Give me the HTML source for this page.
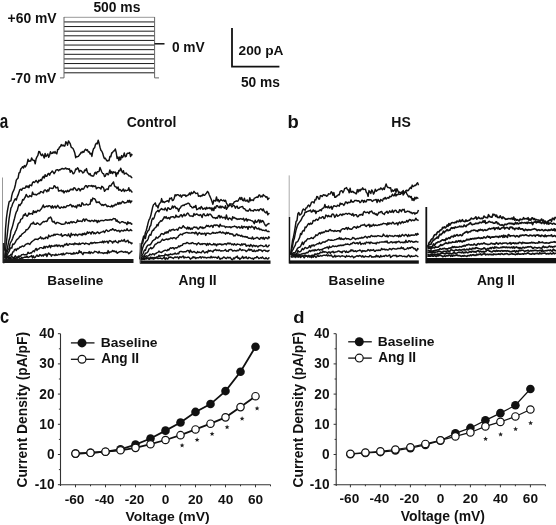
<!DOCTYPE html>
<html><head><meta charset="utf-8"><style>
html,body{margin:0;padding:0;background:#fff;}
svg{display:block;filter:blur(0.3px);}
text{font-family:"Liberation Sans",sans-serif;font-weight:bold;fill:#111;}
</style></head><body>
<svg width="556" height="525" viewBox="0 0 556 525">
<rect width="556" height="525" fill="#fff"/>
<line x1="64" y1="17.30" x2="154.6" y2="17.30" stroke="#999" stroke-width="1"/>
<line x1="64" y1="21.93" x2="154.6" y2="21.93" stroke="#1a1a1a" stroke-width="1"/>
<line x1="64" y1="26.55" x2="154.6" y2="26.55" stroke="#1a1a1a" stroke-width="1"/>
<line x1="64" y1="31.18" x2="154.6" y2="31.18" stroke="#1a1a1a" stroke-width="1"/>
<line x1="64" y1="35.80" x2="154.6" y2="35.80" stroke="#1a1a1a" stroke-width="1"/>
<line x1="64" y1="40.42" x2="154.6" y2="40.42" stroke="#1a1a1a" stroke-width="1"/>
<line x1="64" y1="45.05" x2="154.6" y2="45.05" stroke="#1a1a1a" stroke-width="1"/>
<line x1="64" y1="49.67" x2="154.6" y2="49.67" stroke="#1a1a1a" stroke-width="1"/>
<line x1="64" y1="54.30" x2="154.6" y2="54.30" stroke="#1a1a1a" stroke-width="1"/>
<line x1="64" y1="58.92" x2="154.6" y2="58.92" stroke="#1a1a1a" stroke-width="1"/>
<line x1="64" y1="63.55" x2="154.6" y2="63.55" stroke="#1a1a1a" stroke-width="1"/>
<line x1="64" y1="68.17" x2="154.6" y2="68.17" stroke="#1a1a1a" stroke-width="1"/>
<line x1="64" y1="72.80" x2="154.6" y2="72.80" stroke="#1a1a1a" stroke-width="1"/>
<path d="M60,77.9 H64 V17 M154.6,17 V77.9 H159" fill="none" stroke="#666" stroke-width="1"/>
<line x1="154.6" y1="43.8" x2="164.5" y2="43.8" stroke="#111" stroke-width="1.5"/>
<path d="M232,27.9 V66.7 H279.4" fill="none" stroke="#111" stroke-width="1.8"/>
<path d="M4.6,250.7 5.5,229.3 6.4,218.3 7.3,211.5 8.2,206.7 9.1,201.9 10.0,201.1 10.9,200.8 11.8,195.6 12.7,192.3 13.6,190.7 14.5,188.2 15.4,184.7 16.3,180.2 17.2,178.9 18.1,178.0 19.0,172.9 19.9,172.5 20.8,169.0 21.7,167.9 22.6,166.7 23.5,168.0 24.4,165.6 25.3,166.9 26.2,165.5 27.1,163.6 28.0,159.3 28.9,161.4 29.8,161.0 30.7,161.1 31.6,157.9 32.5,159.9 33.4,160.2 34.3,160.5 35.2,163.8 36.1,158.9 37.0,156.8 37.9,155.4 38.8,151.5 39.7,151.7 40.6,154.3 41.5,155.6 42.4,154.1 43.3,155.7 44.2,158.0 45.1,153.5 46.0,156.6 46.9,155.6 47.8,153.9 48.7,157.2 49.6,155.2 50.5,151.7 51.4,153.5 52.3,153.3 53.2,151.9 54.1,153.1 55.0,151.5 55.9,153.2 56.8,153.8 57.7,149.5 58.6,149.2 59.5,147.1 60.4,146.6 61.3,144.6 62.2,145.8 63.1,145.1 64.0,145.9 64.9,145.9 65.8,141.8 66.7,142.8 67.6,145.2 68.5,140.9 69.4,142.3 70.3,143.9 71.2,147.2 72.1,147.8 73.0,148.5 73.9,150.5 74.8,153.0 75.7,157.7 76.6,156.4 77.5,156.7 78.4,156.3 79.3,155.1 80.2,154.1 81.1,152.2 82.0,152.8 82.9,151.4 83.8,152.2 84.7,150.2 85.6,149.2 86.5,150.4 87.4,149.7 88.3,152.0 89.2,151.7 90.1,154.0 91.0,153.3 91.9,156.4 92.8,151.2 93.7,148.3 94.6,147.8 95.5,144.4 96.4,143.3 97.3,143.8 98.2,140.3 99.1,143.3 100.0,147.2 100.9,150.3 101.8,151.2 102.7,153.2 103.6,156.6 104.5,158.7 105.4,158.2 106.3,160.0 107.2,161.1 108.1,160.4 109.0,160.8 109.9,156.5 110.8,156.8 111.7,153.0 112.6,152.5 113.5,151.0 114.4,150.9 115.3,149.0 116.2,152.4 117.1,158.4 118.0,157.0 118.9,160.6 119.8,157.0 120.7,159.7 121.6,155.6 122.5,157.6 123.4,155.9 124.3,152.9 125.2,156.8 126.1,156.4 127.0,153.7 127.9,153.2 128.8,153.2 129.7,152.5 130.6,156.6 131.5,154.3 132.4,155.4" fill="none" stroke="#111" stroke-width="1.45" stroke-linejoin="round"/>
<path d="M4.6,258.0 5.5,250.9 6.4,242.3 7.3,234.4 8.2,226.5 9.1,218.6 10.0,213.4 10.9,208.2 11.8,206.5 12.7,203.6 13.6,202.0 14.5,200.0 15.4,198.8 16.3,200.1 17.2,196.9 18.1,194.9 19.0,192.3 19.9,189.6 20.8,189.3 21.7,190.3 22.6,188.3 23.5,188.3 24.4,188.2 25.3,187.9 26.2,185.9 27.1,187.2 28.0,185.9 28.9,187.7 29.8,185.0 30.7,185.1 31.6,185.8 32.5,182.8 33.4,181.7 34.3,182.6 35.2,181.7 36.1,180.4 37.0,181.6 37.9,182.8 38.8,180.2 39.7,181.1 40.6,179.6 41.5,180.4 42.4,177.8 43.3,176.3 44.2,178.1 45.1,174.7 46.0,176.4 46.9,176.2 47.8,174.1 48.7,173.4 49.6,175.2 50.5,173.0 51.4,172.2 52.3,171.0 53.2,172.1 54.1,173.7 55.0,172.4 55.9,170.2 56.8,169.8 57.7,169.7 58.6,170.8 59.5,169.6 60.4,169.7 61.3,168.9 62.2,168.5 63.1,168.8 64.0,169.1 64.9,168.5 65.8,168.0 66.7,169.1 67.6,168.7 68.5,169.3 69.4,168.8 70.3,172.2 71.2,170.4 72.1,171.4 73.0,173.7 73.9,173.5 74.8,171.7 75.7,168.9 76.6,169.5 77.5,167.7 78.4,168.7 79.3,172.0 80.2,170.5 81.1,170.8 82.0,171.7 82.9,173.0 83.8,172.4 84.7,170.1 85.6,170.6 86.5,168.6 87.4,172.2 88.3,173.4 89.2,174.7 90.1,173.5 91.0,175.8 91.9,175.7 92.8,176.2 93.7,175.9 94.6,173.1 95.5,172.3 96.4,174.1 97.3,171.8 98.2,171.7 99.1,171.4 100.0,167.5 100.9,169.7 101.8,172.0 102.7,173.5 103.6,173.6 104.5,176.6 105.4,176.1 106.3,173.6 107.2,173.4 108.1,174.8 109.0,173.3 109.9,169.9 110.8,173.2 111.7,171.5 112.6,173.6 113.5,171.8 114.4,172.4 115.3,172.1 116.2,176.4 117.1,172.7 118.0,173.8 118.9,170.4 119.8,170.9 120.7,168.2 121.6,170.6 122.5,172.6 123.4,170.7 124.3,174.1 125.2,173.4 126.1,173.1 127.0,174.1 127.9,174.6 128.8,175.9 129.7,175.9 130.6,176.1 131.5,177.5 132.4,177.6" fill="none" stroke="#111" stroke-width="1.45" stroke-linejoin="round"/>
<path d="M4.6,258.0 5.5,253.4 6.4,251.0 7.3,248.5 8.2,244.2 9.1,239.9 10.0,237.3 10.9,231.1 11.8,228.4 12.7,225.6 13.6,221.8 14.5,218.5 15.4,214.8 16.3,212.0 17.2,210.7 18.1,207.3 19.0,204.5 19.9,205.6 20.8,204.0 21.7,203.0 22.6,199.6 23.5,200.1 24.4,198.4 25.3,197.0 26.2,194.4 27.1,196.0 28.0,197.0 28.9,196.8 29.8,195.5 30.7,196.1 31.6,196.7 32.5,192.1 33.4,194.3 34.3,194.5 35.2,194.3 36.1,195.0 37.0,194.5 37.9,193.8 38.8,193.2 39.7,193.5 40.6,191.6 41.5,191.8 42.4,192.2 43.3,192.9 44.2,190.3 45.1,189.9 46.0,190.5 46.9,191.8 47.8,189.8 48.7,191.1 49.6,188.0 50.5,188.1 51.4,188.2 52.3,188.6 53.2,188.2 54.1,185.7 55.0,186.2 55.9,187.9 56.8,187.7 57.7,187.2 58.6,191.0 59.5,190.8 60.4,190.8 61.3,190.1 62.2,191.7 63.1,190.6 64.0,193.0 64.9,191.4 65.8,190.9 66.7,191.9 67.6,190.3 68.5,191.5 69.4,191.0 70.3,189.2 71.2,189.8 72.1,189.0 73.0,190.0 73.9,187.7 74.8,187.9 75.7,189.3 76.6,190.5 77.5,190.3 78.4,188.4 79.3,188.8 80.2,190.9 81.1,189.4 82.0,188.4 82.9,189.3 83.8,188.7 84.7,186.9 85.6,185.6 86.5,185.8 87.4,187.6 88.3,185.7 89.2,185.9 90.1,185.8 91.0,186.2 91.9,185.4 92.8,186.8 93.7,185.8 94.6,186.5 95.5,185.9 96.4,188.8 97.3,187.9 98.2,187.5 99.1,187.6 100.0,188.0 100.9,189.1 101.8,186.3 102.7,186.9 103.6,187.9 104.5,191.3 105.4,190.2 106.3,189.1 107.2,189.0 108.1,189.6 109.0,186.3 109.9,185.5 110.8,186.1 111.7,184.3 112.6,183.3 113.5,181.9 114.4,185.7 115.3,186.8 116.2,186.9 117.1,188.7 118.0,187.0 118.9,190.3 119.8,189.4 120.7,190.0 121.6,191.2 122.5,190.2 123.4,189.0 124.3,191.5 125.2,190.0 126.1,190.8 127.0,190.4 127.9,190.2 128.8,187.7 129.7,191.1 130.6,190.0 131.5,191.5 132.4,192.4" fill="none" stroke="#111" stroke-width="1.45" stroke-linejoin="round"/>
<path d="M4.6,258.0 5.5,256.8 6.4,253.7 7.3,251.7 8.2,249.2 9.1,248.9 10.0,243.8 10.9,242.0 11.8,240.4 12.7,238.3 13.6,235.3 14.5,234.1 15.4,231.5 16.3,229.8 17.2,227.2 18.1,224.0 19.0,222.9 19.9,222.2 20.8,219.3 21.7,218.9 22.6,218.1 23.5,214.9 24.4,215.4 25.3,213.5 26.2,215.5 27.1,216.3 28.0,215.3 28.9,212.9 29.8,214.2 30.7,213.6 31.6,213.4 32.5,214.3 33.4,210.7 34.3,212.6 35.2,211.3 36.1,212.5 37.0,211.3 37.9,210.2 38.8,210.9 39.7,211.0 40.6,209.3 41.5,208.8 42.4,206.8 43.3,205.0 44.2,207.5 45.1,206.9 46.0,206.5 46.9,205.9 47.8,206.7 48.7,205.7 49.6,205.8 50.5,206.3 51.4,208.1 52.3,205.8 53.2,208.1 54.1,206.8 55.0,206.0 55.9,208.0 56.8,206.8 57.7,205.3 58.6,206.6 59.5,208.0 60.4,208.2 61.3,206.9 62.2,207.4 63.1,207.8 64.0,206.5 64.9,207.5 65.8,207.2 66.7,206.0 67.6,205.6 68.5,205.8 69.4,205.3 70.3,204.4 71.2,205.1 72.1,206.9 73.0,205.6 73.9,206.5 74.8,206.9 75.7,206.0 76.6,207.9 77.5,204.9 78.4,205.8 79.3,204.5 80.2,206.4 81.1,206.3 82.0,202.8 82.9,203.6 83.8,205.0 84.7,204.9 85.6,204.7 86.5,203.9 87.4,204.8 88.3,205.0 89.2,204.3 90.1,204.2 91.0,199.6 91.9,201.0 92.8,198.0 93.7,198.7 94.6,198.8 95.5,199.9 96.4,202.6 97.3,202.1 98.2,202.5 99.1,201.8 100.0,203.5 100.9,204.3 101.8,205.4 102.7,204.5 103.6,205.5 104.5,204.7 105.4,204.3 106.3,205.3 107.2,206.7 108.1,205.9 109.0,206.4 109.9,206.6 110.8,206.9 111.7,205.3 112.6,206.9 113.5,205.4 114.4,205.8 115.3,204.2 116.2,204.9 117.1,204.2 118.0,202.6 118.9,204.3 119.8,202.5 120.7,203.8 121.6,202.7 122.5,201.3 123.4,201.8 124.3,203.0 125.2,202.7 126.1,202.6 127.0,202.3 127.9,200.4 128.8,202.3 129.7,200.3 130.6,202.7 131.5,201.2 132.4,200.8" fill="none" stroke="#111" stroke-width="1.45" stroke-linejoin="round"/>
<path d="M4.6,258.0 5.5,256.9 6.4,255.6 7.3,254.9 8.2,252.8 9.1,251.5 10.0,249.0 10.9,247.8 11.8,248.0 12.7,244.1 13.6,244.4 14.5,243.6 15.4,242.2 16.3,240.2 17.2,239.4 18.1,238.6 19.0,237.7 19.9,236.0 20.8,236.3 21.7,234.3 22.6,233.7 23.5,233.0 24.4,232.3 25.3,231.7 26.2,229.6 27.1,229.8 28.0,229.0 28.9,227.7 29.8,226.5 30.7,224.3 31.6,223.5 32.5,223.7 33.4,222.1 34.3,224.1 35.2,224.3 36.1,224.3 37.0,223.0 37.9,223.3 38.8,224.0 39.7,224.8 40.6,224.5 41.5,223.1 42.4,222.6 43.3,221.4 44.2,221.9 45.1,221.4 46.0,221.3 46.9,221.5 47.8,219.6 48.7,217.9 49.6,218.0 50.5,217.0 51.4,218.3 52.3,221.5 53.2,222.1 54.1,221.3 55.0,223.2 55.9,223.8 56.8,222.5 57.7,222.4 58.6,222.8 59.5,223.3 60.4,223.6 61.3,224.2 62.2,224.1 63.1,224.2 64.0,224.1 64.9,223.9 65.8,221.9 66.7,222.7 67.6,223.4 68.5,222.5 69.4,223.5 70.3,222.2 71.2,221.6 72.1,222.9 73.0,221.8 73.9,222.0 74.8,222.4 75.7,222.7 76.6,222.3 77.5,220.0 78.4,221.3 79.3,221.3 80.2,220.9 81.1,221.3 82.0,221.6 82.9,219.7 83.8,218.9 84.7,221.2 85.6,219.3 86.5,219.1 87.4,220.4 88.3,220.9 89.2,220.5 90.1,221.6 91.0,220.9 91.9,220.3 92.8,220.8 93.7,221.5 94.6,220.1 95.5,220.9 96.4,220.5 97.3,222.6 98.2,220.5 99.1,221.8 100.0,220.9 100.9,220.5 101.8,220.5 102.7,220.4 103.6,220.7 104.5,220.4 105.4,219.8 106.3,219.8 107.2,220.3 108.1,219.8 109.0,220.2 109.9,219.5 110.8,219.8 111.7,220.1 112.6,219.3 113.5,218.4 114.4,218.8 115.3,218.8 116.2,221.3 117.1,220.0 118.0,222.0 118.9,221.8 119.8,223.1 120.7,222.5 121.6,221.8 122.5,221.7 123.4,222.1 124.3,222.7 125.2,222.6 126.1,223.2 127.0,224.6 127.9,221.8 128.8,223.5 129.7,222.7 130.6,223.0 131.5,224.2 132.4,223.7" fill="none" stroke="#111" stroke-width="1.45" stroke-linejoin="round"/>
<path d="M4.6,258.0 5.5,257.7 6.4,256.0 7.3,256.2 8.2,256.8 9.1,255.6 10.0,255.7 10.9,254.3 11.8,255.2 12.7,252.0 13.6,251.9 14.5,249.6 15.4,249.1 16.3,250.6 17.2,248.4 18.1,249.1 19.0,248.2 19.9,247.0 20.8,247.2 21.7,246.3 22.6,245.9 23.5,246.6 24.4,246.0 25.3,244.7 26.2,244.0 27.1,244.0 28.0,243.3 28.9,243.9 29.8,244.5 30.7,242.9 31.6,241.9 32.5,241.2 33.4,240.5 34.3,239.9 35.2,239.1 36.1,239.2 37.0,239.1 37.9,239.6 38.8,238.4 39.7,238.2 40.6,236.8 41.5,238.8 42.4,237.9 43.3,239.0 44.2,238.2 45.1,238.6 46.0,237.1 46.9,237.4 47.8,238.4 48.7,235.1 49.6,236.6 50.5,236.6 51.4,235.4 52.3,235.5 53.2,235.7 54.1,234.2 55.0,235.3 55.9,234.2 56.8,234.4 57.7,234.3 58.6,234.6 59.5,234.9 60.4,235.1 61.3,233.8 62.2,236.4 63.1,235.6 64.0,235.3 64.9,234.7 65.8,234.8 66.7,235.6 67.6,235.7 68.5,233.9 69.4,236.0 70.3,237.1 71.2,233.2 72.1,235.2 73.0,234.5 73.9,234.4 74.8,235.6 75.7,234.0 76.6,234.7 77.5,235.8 78.4,234.4 79.3,234.1 80.2,234.8 81.1,234.1 82.0,235.4 82.9,233.4 83.8,234.6 84.7,233.1 85.6,234.7 86.5,233.9 87.4,231.8 88.3,233.3 89.2,232.3 90.1,232.5 91.0,234.1 91.9,232.0 92.8,231.8 93.7,233.8 94.6,232.7 95.5,233.8 96.4,233.0 97.3,232.0 98.2,232.5 99.1,233.5 100.0,233.0 100.9,232.3 101.8,232.1 102.7,231.7 103.6,231.1 104.5,232.6 105.4,231.1 106.3,229.9 107.2,230.5 108.1,231.4 109.0,231.1 109.9,230.3 110.8,229.7 111.7,230.1 112.6,228.7 113.5,229.4 114.4,230.6 115.3,229.7 116.2,230.3 117.1,231.1 118.0,230.8 118.9,230.3 119.8,232.0 120.7,230.9 121.6,230.3 122.5,230.9 123.4,231.0 124.3,229.9 125.2,230.6 126.1,230.5 127.0,228.7 127.9,230.4 128.8,230.7 129.7,230.5 130.6,229.5 131.5,230.5 132.4,230.6" fill="none" stroke="#111" stroke-width="1.45" stroke-linejoin="round"/>
<path d="M4.6,258.0 5.5,257.9 6.4,256.9 7.3,256.8 8.2,258.4 9.1,256.9 10.0,258.8 10.9,257.0 11.8,256.5 12.7,257.2 13.6,258.0 14.5,256.9 15.4,255.8 16.3,257.2 17.2,257.8 18.1,256.3 19.0,255.9 19.9,256.7 20.8,255.8 21.7,254.7 22.6,254.6 23.5,254.3 24.4,254.8 25.3,254.6 26.2,254.9 27.1,254.2 28.0,252.2 28.9,253.3 29.8,253.4 30.7,252.7 31.6,253.0 32.5,251.5 33.4,250.8 34.3,251.8 35.2,249.7 36.1,248.4 37.0,250.5 37.9,249.0 38.8,249.1 39.7,247.9 40.6,247.6 41.5,247.6 42.4,248.3 43.3,248.4 44.2,246.3 45.1,248.1 46.0,246.4 46.9,246.4 47.8,247.4 48.7,246.5 49.6,245.3 50.5,247.7 51.4,245.5 52.3,246.3 53.2,245.9 54.1,246.4 55.0,245.1 55.9,246.1 56.8,244.8 57.7,246.5 58.6,245.2 59.5,245.2 60.4,246.7 61.3,245.6 62.2,245.4 63.1,246.9 64.0,245.5 64.9,244.2 65.8,245.0 66.7,243.4 67.6,245.2 68.5,245.1 69.4,243.7 70.3,243.9 71.2,244.3 72.1,244.3 73.0,243.8 73.9,244.8 74.8,243.0 75.7,244.1 76.6,243.8 77.5,244.0 78.4,244.5 79.3,243.1 80.2,244.5 81.1,243.7 82.0,243.3 82.9,243.1 83.8,243.4 84.7,244.3 85.6,243.1 86.5,243.4 87.4,243.8 88.3,243.9 89.2,244.6 90.1,243.4 91.0,242.4 91.9,243.7 92.8,242.7 93.7,243.0 94.6,242.3 95.5,243.1 96.4,242.8 97.3,242.8 98.2,242.6 99.1,242.6 100.0,242.2 100.9,242.1 101.8,242.5 102.7,241.1 103.6,242.8 104.5,241.2 105.4,242.1 106.3,241.5 107.2,241.2 108.1,243.1 109.0,241.2 109.9,240.6 110.8,241.2 111.7,241.5 112.6,243.1 113.5,241.3 114.4,241.8 115.3,240.6 116.2,241.8 117.1,242.4 118.0,242.9 118.9,240.8 119.8,241.6 120.7,241.3 121.6,240.1 122.5,241.0 123.4,241.0 124.3,239.4 125.2,241.7 126.1,241.7 127.0,240.9 127.9,240.2 128.8,242.7 129.7,242.0 130.6,242.7 131.5,243.8 132.4,242.5" fill="none" stroke="#111" stroke-width="1.45" stroke-linejoin="round"/>
<path d="M4.6,258.0 5.5,257.3 6.4,258.4 7.3,257.6 8.2,257.8 9.1,259.2 10.0,258.5 10.9,258.4 11.8,258.1 12.7,258.0 13.6,258.4 14.5,257.5 15.4,259.4 16.3,257.5 17.2,258.3 18.1,257.5 19.0,257.7 19.9,258.4 20.8,258.9 21.7,257.3 22.6,258.2 23.5,257.6 24.4,257.3 25.3,257.0 26.2,257.3 27.1,256.2 28.0,257.5 28.9,257.2 29.8,256.7 30.7,256.4 31.6,255.6 32.5,258.0 33.4,255.8 34.3,257.8 35.2,257.4 36.1,256.1 37.0,255.0 37.9,256.2 38.8,256.3 39.7,254.6 40.6,254.9 41.5,255.9 42.4,255.1 43.3,256.1 44.2,254.3 45.1,255.0 46.0,253.8 46.9,256.5 47.8,254.2 48.7,253.0 49.6,254.4 50.5,254.2 51.4,256.2 52.3,254.7 53.2,254.9 54.1,255.0 55.0,255.5 55.9,254.1 56.8,255.2 57.7,255.0 58.6,254.2 59.5,254.6 60.4,254.4 61.3,253.7 62.2,255.0 63.1,253.2 64.0,254.8 64.9,254.2 65.8,253.6 66.7,252.9 67.6,253.1 68.5,253.5 69.4,253.4 70.3,253.3 71.2,254.2 72.1,253.4 73.0,254.2 73.9,252.6 74.8,253.9 75.7,253.4 76.6,252.6 77.5,253.6 78.4,253.2 79.3,250.6 80.2,252.6 81.1,251.7 82.0,253.4 82.9,254.6 83.8,252.5 84.7,252.8 85.6,252.6 86.5,252.8 87.4,252.8 88.3,253.2 89.2,251.6 90.1,253.6 91.0,252.0 91.9,252.6 92.8,253.1 93.7,252.6 94.6,251.3 95.5,251.6 96.4,251.8 97.3,252.3 98.2,253.1 99.1,251.3 100.0,252.8 100.9,252.9 101.8,252.8 102.7,253.0 103.6,253.5 104.5,252.7 105.4,253.1 106.3,252.6 107.2,253.6 108.1,250.6 109.0,253.0 109.9,252.0 110.8,252.0 111.7,251.6 112.6,250.4 113.5,251.4 114.4,250.9 115.3,251.9 116.2,251.2 117.1,253.3 118.0,252.7 118.9,252.2 119.8,251.7 120.7,251.5 121.6,251.3 122.5,251.6 123.4,252.2 124.3,252.1 125.2,251.5 126.1,252.4 127.0,251.8 127.9,252.5 128.8,253.7 129.7,252.9 130.6,252.3 131.5,251.3 132.4,251.2" fill="none" stroke="#111" stroke-width="1.45" stroke-linejoin="round"/>
<path d="M140.0,259.0 140.9,245.9 141.8,243.0 142.7,239.6 143.6,236.1 144.5,237.2 145.4,232.5 146.3,230.3 147.2,226.8 148.1,222.9 149.0,219.9 149.9,218.3 150.8,215.6 151.7,211.5 152.6,207.3 153.5,204.8 154.4,204.0 155.3,202.9 156.2,206.0 157.1,205.8 158.0,208.0 158.9,204.8 159.8,203.1 160.7,202.7 161.6,198.6 162.5,202.0 163.4,201.5 164.3,202.6 165.2,201.8 166.1,201.4 167.0,201.0 167.9,200.7 168.8,202.0 169.7,198.3 170.6,198.7 171.5,197.7 172.4,200.6 173.3,200.2 174.2,198.2 175.1,194.7 176.0,195.8 176.9,194.8 177.8,194.7 178.7,195.2 179.6,195.9 180.5,194.9 181.4,197.2 182.3,195.6 183.2,194.9 184.1,195.3 185.0,194.8 185.9,196.5 186.8,195.4 187.7,195.6 188.6,194.6 189.5,193.0 190.4,194.9 191.3,192.2 192.2,193.5 193.1,193.0 194.0,191.3 194.9,192.6 195.8,193.5 196.7,193.4 197.6,193.1 198.5,196.2 199.4,195.8 200.3,196.5 201.2,195.5 202.1,196.0 203.0,194.2 203.9,195.2 204.8,195.2 205.7,193.9 206.6,193.0 207.5,191.4 208.4,192.5 209.3,195.0 210.2,196.9 211.1,199.1 212.0,201.5 212.9,204.2 213.8,200.3 214.7,200.7 215.6,201.0 216.5,196.9 217.4,200.8 218.3,199.6 219.2,202.0 220.1,200.5 221.0,199.5 221.9,200.4 222.8,200.7 223.7,200.0 224.6,201.3 225.5,200.3 226.4,203.0 227.3,204.7 228.2,206.3 229.1,205.0 230.0,203.8 230.9,204.1 231.8,203.9 232.7,204.3 233.6,203.2 234.5,201.6 235.4,201.5 236.3,200.8 237.2,201.3 238.1,200.9 239.0,199.2 239.9,197.5 240.8,199.5 241.7,197.5 242.6,200.4 243.5,200.7 244.4,198.3 245.3,201.1 246.2,201.1 247.1,199.9 248.0,201.7 248.9,202.0 249.8,197.8 250.7,200.7 251.6,199.9 252.5,199.9 253.4,200.6 254.3,198.2 255.2,197.9 256.1,197.4 257.0,197.0 257.9,197.4 258.8,195.3 259.7,195.0 260.6,197.0 261.5,196.1 262.4,196.8 263.3,194.6 264.2,195.7 265.1,196.1 266.0,197.2 266.9,196.7 267.8,199.5 268.7,198.3 269.6,198.2" fill="none" stroke="#111" stroke-width="1.45" stroke-linejoin="round"/>
<path d="M140.0,259.0 140.9,250.5 141.8,243.4 142.7,243.1 143.6,239.1 144.5,236.6 145.4,238.5 146.3,234.0 147.2,232.4 148.1,230.6 149.0,230.0 149.9,226.4 150.8,225.4 151.7,220.6 152.6,218.3 153.5,219.1 154.4,216.9 155.3,213.8 156.2,212.0 157.1,211.3 158.0,210.2 158.9,211.8 159.8,210.2 160.7,209.4 161.6,208.6 162.5,209.5 163.4,209.4 164.3,209.9 165.2,208.0 166.1,209.5 167.0,210.9 167.9,207.8 168.8,208.1 169.7,209.3 170.6,209.2 171.5,208.5 172.4,206.0 173.3,207.9 174.2,206.2 175.1,206.5 176.0,208.5 176.9,208.0 177.8,209.0 178.7,211.4 179.6,208.3 180.5,207.8 181.4,205.9 182.3,205.7 183.2,205.1 184.1,205.5 185.0,204.4 185.9,204.3 186.8,203.8 187.7,203.3 188.6,203.3 189.5,204.1 190.4,206.3 191.3,206.4 192.2,207.8 193.1,207.8 194.0,206.4 194.9,207.2 195.8,205.4 196.7,209.7 197.6,209.3 198.5,208.6 199.4,207.7 200.3,209.0 201.2,206.5 202.1,207.6 203.0,209.3 203.9,208.6 204.8,208.0 205.7,209.4 206.6,207.3 207.5,208.5 208.4,208.1 209.3,207.6 210.2,208.8 211.1,207.8 212.0,210.6 212.9,207.9 213.8,210.6 214.7,206.9 215.6,208.2 216.5,205.8 217.4,205.8 218.3,207.0 219.2,207.8 220.1,206.0 221.0,208.0 221.9,206.2 222.8,207.0 223.7,207.5 224.6,208.2 225.5,205.8 226.4,209.3 227.3,207.9 228.2,206.6 229.1,205.9 230.0,204.8 230.9,205.2 231.8,206.9 232.7,205.9 233.6,205.3 234.5,206.0 235.4,208.2 236.3,206.7 237.2,206.2 238.1,208.4 239.0,208.2 239.9,207.2 240.8,207.0 241.7,206.6 242.6,206.5 243.5,208.6 244.4,208.6 245.3,209.6 246.2,210.8 247.1,210.4 248.0,211.3 248.9,210.1 249.8,208.8 250.7,210.8 251.6,210.5 252.5,210.6 253.4,211.2 254.3,209.6 255.2,209.7 256.1,210.6 257.0,210.1 257.9,209.6 258.8,210.8 259.7,209.5 260.6,208.8 261.5,209.2 262.4,210.7 263.3,208.9 264.2,211.2 265.1,212.3 266.0,212.9 266.9,211.3 267.8,214.8 268.7,213.4 269.6,213.6" fill="none" stroke="#111" stroke-width="1.45" stroke-linejoin="round"/>
<path d="M140.0,259.0 140.9,254.8 141.8,251.0 142.7,247.8 143.6,245.4 144.5,243.6 145.4,242.7 146.3,241.1 147.2,240.7 148.1,239.0 149.0,236.0 149.9,234.5 150.8,235.3 151.7,232.1 152.6,230.3 153.5,230.4 154.4,228.4 155.3,227.7 156.2,226.9 157.1,224.4 158.0,225.8 158.9,222.7 159.8,222.0 160.7,220.8 161.6,221.2 162.5,220.0 163.4,218.8 164.3,216.8 165.2,218.0 166.1,216.6 167.0,218.5 167.9,218.3 168.8,217.6 169.7,219.0 170.6,217.0 171.5,217.0 172.4,216.7 173.3,216.6 174.2,217.7 175.1,217.5 176.0,215.1 176.9,217.0 177.8,216.4 178.7,217.1 179.6,216.6 180.5,214.9 181.4,214.8 182.3,216.9 183.2,215.4 184.1,214.1 185.0,215.9 185.9,215.4 186.8,213.9 187.7,213.1 188.6,214.0 189.5,215.8 190.4,216.0 191.3,215.9 192.2,216.1 193.1,216.5 194.0,213.5 194.9,215.1 195.8,214.4 196.7,213.9 197.6,214.6 198.5,215.3 199.4,215.5 200.3,214.6 201.2,215.4 202.1,217.6 203.0,214.4 203.9,213.7 204.8,215.5 205.7,215.7 206.6,215.6 207.5,213.9 208.4,215.6 209.3,214.1 210.2,214.1 211.1,215.0 212.0,216.3 212.9,217.5 213.8,217.7 214.7,217.6 215.6,218.5 216.5,217.6 217.4,218.2 218.3,215.9 219.2,215.4 220.1,217.9 221.0,216.1 221.9,217.1 222.8,217.9 223.7,217.4 224.6,217.3 225.5,219.1 226.4,215.0 227.3,218.3 228.2,219.7 229.1,218.0 230.0,218.3 230.9,219.0 231.8,220.1 232.7,216.8 233.6,218.0 234.5,217.5 235.4,218.5 236.3,218.5 237.2,219.4 238.1,218.8 239.0,219.3 239.9,218.8 240.8,218.6 241.7,219.1 242.6,219.2 243.5,218.2 244.4,220.9 245.3,219.8 246.2,218.6 247.1,221.1 248.0,219.4 248.9,220.0 249.8,219.9 250.7,220.4 251.6,220.7 252.5,220.9 253.4,221.9 254.3,223.7 255.2,220.2 256.1,222.2 257.0,222.0 257.9,220.6 258.8,219.7 259.7,222.8 260.6,220.2 261.5,222.1 262.4,220.6 263.3,221.4 264.2,223.3 265.1,225.0 266.0,226.1 266.9,224.9 267.8,224.1 268.7,223.5 269.6,223.7" fill="none" stroke="#111" stroke-width="1.45" stroke-linejoin="round"/>
<path d="M140.0,259.0 140.9,255.9 141.8,255.6 142.7,254.4 143.6,252.2 144.5,249.9 145.4,250.4 146.3,247.5 147.2,246.1 148.1,245.1 149.0,244.9 149.9,244.9 150.8,244.1 151.7,242.7 152.6,240.9 153.5,240.4 154.4,239.4 155.3,239.2 156.2,237.1 157.1,238.1 158.0,238.0 158.9,236.5 159.8,236.5 160.7,234.5 161.6,233.6 162.5,233.7 163.4,234.4 164.3,233.8 165.2,232.2 166.1,233.2 167.0,231.7 167.9,232.9 168.8,231.1 169.7,230.1 170.6,231.1 171.5,229.7 172.4,229.8 173.3,229.2 174.2,230.3 175.1,229.9 176.0,229.6 176.9,229.2 177.8,230.2 178.7,228.3 179.6,227.3 180.5,228.0 181.4,228.2 182.3,227.3 183.2,225.7 184.1,226.9 185.0,227.7 185.9,227.9 186.8,229.1 187.7,226.9 188.6,228.9 189.5,227.5 190.4,229.4 191.3,228.2 192.2,229.2 193.1,227.8 194.0,227.0 194.9,227.2 195.8,227.5 196.7,227.2 197.6,228.9 198.5,229.0 199.4,227.8 200.3,226.8 201.2,227.9 202.1,227.0 203.0,228.6 203.9,227.6 204.8,227.9 205.7,226.8 206.6,225.3 207.5,226.2 208.4,225.5 209.3,226.8 210.2,226.6 211.1,225.4 212.0,225.7 212.9,227.4 213.8,225.1 214.7,225.0 215.6,225.5 216.5,225.0 217.4,225.1 218.3,225.9 219.2,226.9 220.1,224.2 221.0,225.8 221.9,226.1 222.8,225.9 223.7,226.1 224.6,226.2 225.5,227.6 226.4,226.7 227.3,226.9 228.2,226.9 229.1,227.0 230.0,226.7 230.9,227.8 231.8,226.9 232.7,226.7 233.6,226.6 234.5,226.1 235.4,226.7 236.3,226.7 237.2,228.0 238.1,227.1 239.0,226.7 239.9,228.0 240.8,227.9 241.7,226.0 242.6,228.3 243.5,226.7 244.4,226.4 245.3,227.5 246.2,227.0 247.1,226.7 248.0,229.3 248.9,226.4 249.8,227.2 250.7,227.7 251.6,226.1 252.5,227.0 253.4,227.1 254.3,229.2 255.2,226.7 256.1,227.6 257.0,228.8 257.9,228.9 258.8,228.1 259.7,229.7 260.6,229.2 261.5,229.5 262.4,230.4 263.3,230.2 264.2,230.4 265.1,230.7 266.0,229.8 266.9,231.1 267.8,231.5 268.7,231.3 269.6,231.8" fill="none" stroke="#111" stroke-width="1.45" stroke-linejoin="round"/>
<path d="M140.0,259.0 140.9,258.3 141.8,257.4 142.7,256.3 143.6,256.1 144.5,255.3 145.4,253.2 146.3,253.0 147.2,252.6 148.1,251.6 149.0,249.0 149.9,248.6 150.8,247.5 151.7,248.8 152.6,248.1 153.5,247.3 154.4,245.6 155.3,244.2 156.2,244.0 157.1,243.3 158.0,242.3 158.9,242.6 159.8,242.3 160.7,241.7 161.6,240.4 162.5,239.2 163.4,240.2 164.3,240.2 165.2,239.6 166.1,239.2 167.0,239.0 167.9,239.7 168.8,238.9 169.7,239.0 170.6,237.9 171.5,238.2 172.4,238.7 173.3,237.8 174.2,237.8 175.1,238.1 176.0,239.0 176.9,237.5 177.8,237.3 178.7,235.7 179.6,235.1 180.5,234.1 181.4,234.4 182.3,234.9 183.2,233.5 184.1,233.3 185.0,233.0 185.9,232.6 186.8,232.4 187.7,232.7 188.6,233.0 189.5,233.0 190.4,233.1 191.3,233.0 192.2,232.5 193.1,232.9 194.0,232.6 194.9,233.7 195.8,232.1 196.7,233.1 197.6,235.0 198.5,233.4 199.4,232.6 200.3,233.5 201.2,234.3 202.1,233.3 203.0,234.1 203.9,233.6 204.8,233.1 205.7,235.4 206.6,233.3 207.5,233.3 208.4,233.2 209.3,233.8 210.2,234.0 211.1,233.7 212.0,233.2 212.9,232.2 213.8,233.2 214.7,232.9 215.6,233.3 216.5,232.4 217.4,232.9 218.3,232.3 219.2,232.6 220.1,231.6 221.0,232.7 221.9,233.1 222.8,232.1 223.7,232.9 224.6,232.9 225.5,234.2 226.4,232.3 227.3,233.5 228.2,232.6 229.1,233.3 230.0,234.3 230.9,233.6 231.8,234.3 232.7,234.0 233.6,235.9 234.5,235.5 235.4,235.8 236.3,234.0 237.2,234.2 238.1,235.5 239.0,235.1 239.9,235.5 240.8,236.2 241.7,235.3 242.6,236.7 243.5,236.4 244.4,236.9 245.3,236.4 246.2,237.3 247.1,236.7 248.0,237.8 248.9,238.3 249.8,238.2 250.7,238.3 251.6,238.8 252.5,236.9 253.4,239.2 254.3,238.4 255.2,238.5 256.1,237.9 257.0,237.3 257.9,237.9 258.8,238.8 259.7,239.3 260.6,237.6 261.5,237.5 262.4,238.7 263.3,237.3 264.2,239.4 265.1,238.0 266.0,237.4 266.9,238.3 267.8,238.8 268.7,236.7 269.6,238.4" fill="none" stroke="#111" stroke-width="1.45" stroke-linejoin="round"/>
<path d="M140.0,259.0 140.9,257.5 141.8,258.4 142.7,258.3 143.6,257.5 144.5,256.4 145.4,256.5 146.3,255.8 147.2,256.2 148.1,255.9 149.0,255.5 149.9,254.1 150.8,254.7 151.7,254.8 152.6,253.8 153.5,253.9 154.4,255.0 155.3,253.4 156.2,253.5 157.1,252.6 158.0,252.4 158.9,251.1 159.8,252.1 160.7,252.2 161.6,252.6 162.5,251.6 163.4,251.0 164.3,250.6 165.2,250.2 166.1,250.4 167.0,250.8 167.9,249.4 168.8,250.1 169.7,248.6 170.6,247.8 171.5,248.3 172.4,247.7 173.3,247.7 174.2,249.1 175.1,247.9 176.0,247.7 176.9,248.0 177.8,247.3 178.7,245.9 179.6,246.8 180.5,245.8 181.4,245.5 182.3,245.3 183.2,243.7 184.1,243.6 185.0,243.5 185.9,243.5 186.8,242.5 187.7,242.8 188.6,243.5 189.5,243.7 190.4,243.3 191.3,243.6 192.2,242.6 193.1,243.0 194.0,243.8 194.9,243.6 195.8,243.6 196.7,244.9 197.6,243.5 198.5,242.8 199.4,243.7 200.3,244.6 201.2,243.7 202.1,244.6 203.0,243.6 203.9,243.7 204.8,243.6 205.7,244.0 206.6,245.4 207.5,243.4 208.4,245.0 209.3,243.5 210.2,244.0 211.1,244.8 212.0,244.8 212.9,244.8 213.8,243.5 214.7,244.8 215.6,244.1 216.5,245.8 217.4,244.1 218.3,244.6 219.2,243.8 220.1,244.4 221.0,243.9 221.9,245.0 222.8,244.2 223.7,244.6 224.6,243.7 225.5,243.7 226.4,244.8 227.3,243.4 228.2,243.0 229.1,244.0 230.0,243.0 230.9,243.7 231.8,244.7 232.7,244.0 233.6,244.9 234.5,243.7 235.4,244.9 236.3,245.0 237.2,244.0 238.1,244.3 239.0,244.4 239.9,244.7 240.8,245.5 241.7,243.8 242.6,245.0 243.5,243.9 244.4,244.2 245.3,243.9 246.2,246.3 247.1,245.3 248.0,245.8 248.9,245.2 249.8,246.5 250.7,244.5 251.6,245.4 252.5,246.8 253.4,245.2 254.3,245.6 255.2,246.5 256.1,245.6 257.0,246.1 257.9,246.9 258.8,245.9 259.7,245.8 260.6,245.3 261.5,245.5 262.4,245.6 263.3,246.6 264.2,246.4 265.1,246.1 266.0,244.8 266.9,246.8 267.8,246.7 268.7,245.6 269.6,244.8" fill="none" stroke="#111" stroke-width="1.45" stroke-linejoin="round"/>
<path d="M140.0,259.0 140.9,259.9 141.8,259.7 142.7,258.5 143.6,258.6 144.5,257.9 145.4,258.5 146.3,257.4 147.2,258.5 148.1,258.2 149.0,258.6 149.9,257.9 150.8,257.0 151.7,258.7 152.6,257.4 153.5,258.1 154.4,257.4 155.3,257.6 156.2,258.1 157.1,256.9 158.0,257.1 158.9,255.2 159.8,256.5 160.7,255.8 161.6,255.8 162.5,255.7 163.4,255.7 164.3,256.2 165.2,254.1 166.1,255.1 167.0,254.7 167.9,255.7 168.8,254.5 169.7,254.7 170.6,253.9 171.5,254.5 172.4,254.6 173.3,253.9 174.2,254.0 175.1,253.1 176.0,254.0 176.9,254.1 177.8,253.2 178.7,253.8 179.6,251.6 180.5,251.5 181.4,251.4 182.3,251.8 183.2,252.0 184.1,251.8 185.0,251.6 185.9,251.8 186.8,250.9 187.7,250.4 188.6,250.6 189.5,252.8 190.4,250.1 191.3,251.6 192.2,252.5 193.1,251.9 194.0,251.4 194.9,252.1 195.8,252.8 196.7,253.1 197.6,251.5 198.5,252.4 199.4,252.1 200.3,252.6 201.2,252.8 202.1,251.6 203.0,250.8 203.9,251.9 204.8,252.9 205.7,252.2 206.6,251.7 207.5,252.8 208.4,250.2 209.3,251.2 210.2,250.5 211.1,251.0 212.0,251.1 212.9,252.0 213.8,250.3 214.7,250.2 215.6,249.4 216.5,250.5 217.4,250.1 218.3,250.6 219.2,249.9 220.1,250.6 221.0,251.2 221.9,250.7 222.8,250.9 223.7,250.7 224.6,250.3 225.5,249.5 226.4,251.3 227.3,250.9 228.2,251.4 229.1,249.6 230.0,249.7 230.9,249.3 231.8,249.9 232.7,251.1 233.6,250.8 234.5,250.3 235.4,250.8 236.3,251.0 237.2,250.2 238.1,250.8 239.0,250.1 239.9,248.7 240.8,249.7 241.7,250.6 242.6,249.8 243.5,250.1 244.4,250.1 245.3,250.4 246.2,251.6 247.1,250.8 248.0,250.2 248.9,249.0 249.8,250.4 250.7,249.4 251.6,249.7 252.5,251.3 253.4,251.4 254.3,250.0 255.2,251.6 256.1,251.2 257.0,250.4 257.9,251.1 258.8,249.6 259.7,250.0 260.6,250.0 261.5,250.5 262.4,251.6 263.3,250.4 264.2,250.2 265.1,250.3 266.0,251.2 266.9,250.9 267.8,251.6 268.7,250.6 269.6,250.3" fill="none" stroke="#111" stroke-width="1.45" stroke-linejoin="round"/>
<path d="M140.0,259.0 140.9,259.3 141.8,258.4 142.7,259.0 143.6,259.2 144.5,259.4 145.4,258.4 146.3,258.9 147.2,257.9 148.1,257.9 149.0,259.3 149.9,259.0 150.8,257.9 151.7,258.3 152.6,258.6 153.5,259.1 154.4,258.6 155.3,258.4 156.2,257.1 157.1,258.0 158.0,258.6 158.9,258.4 159.8,258.3 160.7,258.0 161.6,258.8 162.5,258.8 163.4,257.9 164.3,257.3 165.2,259.5 166.1,257.8 167.0,258.8 167.9,259.1 168.8,256.9 169.7,257.5 170.6,257.0 171.5,257.5 172.4,257.7 173.3,258.4 174.2,257.5 175.1,256.9 176.0,257.6 176.9,257.0 177.8,257.0 178.7,258.7 179.6,256.8 180.5,257.0 181.4,257.5 182.3,256.7 183.2,256.1 184.1,258.1 185.0,257.1 185.9,257.6 186.8,257.6 187.7,257.2 188.6,257.1 189.5,257.8 190.4,259.2 191.3,258.2 192.2,258.0 193.1,256.7 194.0,257.8 194.9,257.1 195.8,258.6 196.7,257.7 197.6,257.7 198.5,257.9 199.4,257.3 200.3,256.7 201.2,258.2 202.1,256.9 203.0,256.9 203.9,257.8 204.8,257.2 205.7,257.6 206.6,258.1 207.5,257.5 208.4,257.5 209.3,257.5 210.2,257.9 211.1,256.3 212.0,257.8 212.9,257.2 213.8,257.1 214.7,257.6 215.6,257.2 216.5,257.7 217.4,258.3 218.3,256.5 219.2,257.9 220.1,259.3 221.0,258.3 221.9,258.7 222.8,257.9 223.7,257.0 224.6,257.4 225.5,258.3 226.4,258.6 227.3,257.3 228.2,257.5 229.1,258.0 230.0,257.3 230.9,258.4 231.8,259.6 232.7,259.7 233.6,257.9 234.5,258.8 235.4,257.2 236.3,257.2 237.2,256.1 238.1,258.4 239.0,257.8 239.9,259.4 240.8,258.3 241.7,257.8 242.6,256.3 243.5,258.4 244.4,257.4 245.3,257.8 246.2,256.7 247.1,258.5 248.0,258.5 248.9,257.3 249.8,257.7 250.7,258.2 251.6,258.6 252.5,258.3 253.4,259.2 254.3,258.0 255.2,257.8 256.1,257.8 257.0,256.5 257.9,257.4 258.8,258.5 259.7,258.1 260.6,257.6 261.5,258.2 262.4,256.9 263.3,258.2 264.2,258.5 265.1,258.7 266.0,257.6 266.9,258.7 267.8,259.1 268.7,257.8 269.6,258.2" fill="none" stroke="#111" stroke-width="1.45" stroke-linejoin="round"/>
<path d="M290.7,254.5 291.6,247.0 292.5,240.5 293.4,237.2 294.3,232.6 295.2,227.1 296.1,221.4 297.0,220.4 297.9,213.7 298.8,212.5 299.7,215.1 300.6,214.4 301.5,213.7 302.4,210.6 303.3,209.0 304.2,209.6 305.1,210.3 306.0,208.0 306.9,207.7 307.8,205.8 308.7,205.0 309.6,206.8 310.5,205.0 311.4,202.4 312.3,201.9 313.2,202.0 314.1,202.9 315.0,199.6 315.9,199.8 316.8,196.5 317.7,196.7 318.6,199.1 319.5,199.1 320.4,195.6 321.3,195.8 322.2,196.6 323.1,195.0 324.0,194.7 324.9,195.6 325.8,195.1 326.7,196.2 327.6,195.6 328.5,193.7 329.4,194.1 330.3,193.9 331.2,191.7 332.1,192.6 333.0,195.3 333.9,192.6 334.8,197.3 335.7,197.2 336.6,196.0 337.5,195.8 338.4,194.6 339.3,194.7 340.2,191.3 341.1,190.8 342.0,190.8 342.9,192.8 343.8,191.0 344.7,188.4 345.6,188.3 346.5,187.6 347.4,189.5 348.3,190.0 349.2,192.8 350.1,188.2 351.0,192.2 351.9,192.0 352.8,191.3 353.7,192.5 354.6,192.5 355.5,193.5 356.4,193.8 357.3,189.6 358.2,192.0 359.1,189.6 360.0,191.1 360.9,189.2 361.8,189.7 362.7,187.8 363.6,189.5 364.5,189.4 365.4,189.2 366.3,192.3 367.2,193.2 368.1,196.3 369.0,190.6 369.9,191.9 370.8,193.5 371.7,190.0 372.6,191.2 373.5,194.1 374.4,192.4 375.3,189.2 376.2,191.3 377.1,190.4 378.0,189.8 378.9,189.2 379.8,189.6 380.7,187.9 381.6,188.7 382.5,189.7 383.4,188.0 384.3,189.5 385.2,186.6 386.1,183.9 387.0,186.6 387.9,187.5 388.8,187.5 389.7,188.1 390.6,187.7 391.5,191.8 392.4,190.0 393.3,191.3 394.2,190.6 395.1,189.0 396.0,192.4 396.9,188.7 397.8,190.6 398.7,192.7 399.6,192.0 400.5,192.9 401.4,192.2 402.3,191.5 403.2,195.1 404.1,192.8 405.0,192.2 405.9,190.7 406.8,190.2 407.7,190.8 408.6,190.2 409.5,188.6 410.4,187.3 411.3,188.5 412.2,185.1 413.1,186.6 414.0,186.1 414.9,185.2 415.8,185.5 416.7,183.7 417.6,182.7 418.5,185.2" fill="none" stroke="#111" stroke-width="1.45" stroke-linejoin="round"/>
<path d="M290.7,254.5 291.6,249.5 292.5,246.1 293.4,240.9 294.3,238.5 295.2,233.8 296.1,229.7 297.0,226.7 297.9,224.5 298.8,223.1 299.7,221.9 300.6,220.8 301.5,219.2 302.4,216.9 303.3,215.9 304.2,214.9 305.1,211.9 306.0,212.3 306.9,211.7 307.8,211.3 308.7,211.0 309.6,210.8 310.5,210.1 311.4,212.1 312.3,211.6 313.2,209.8 314.1,211.5 315.0,210.4 315.9,213.5 316.8,211.3 317.7,211.4 318.6,211.2 319.5,210.3 320.4,209.7 321.3,210.8 322.2,208.4 323.1,208.2 324.0,207.6 324.9,204.5 325.8,207.5 326.7,206.8 327.6,207.7 328.5,206.0 329.4,208.1 330.3,207.7 331.2,206.3 332.1,209.2 333.0,206.9 333.9,205.8 334.8,206.0 335.7,206.4 336.6,206.6 337.5,205.2 338.4,205.7 339.3,206.2 340.2,203.1 341.1,204.3 342.0,203.6 342.9,204.3 343.8,205.4 344.7,204.0 345.6,201.9 346.5,202.2 347.4,203.5 348.3,202.2 349.2,202.5 350.1,202.6 351.0,199.9 351.9,202.0 352.8,201.7 353.7,202.0 354.6,200.5 355.5,200.4 356.4,200.4 357.3,201.1 358.2,200.8 359.1,201.0 360.0,202.7 360.9,202.0 361.8,200.2 362.7,200.4 363.6,202.4 364.5,200.4 365.4,201.9 366.3,201.8 367.2,199.6 368.1,199.6 369.0,200.2 369.9,199.6 370.8,199.7 371.7,200.8 372.6,201.4 373.5,200.3 374.4,200.1 375.3,199.8 376.2,199.5 377.1,202.5 378.0,199.4 378.9,200.8 379.8,201.9 380.7,199.4 381.6,200.3 382.5,201.0 383.4,198.4 384.3,198.9 385.2,197.4 386.1,199.1 387.0,198.2 387.9,197.6 388.8,198.3 389.7,196.2 390.6,196.8 391.5,196.3 392.4,194.2 393.3,195.7 394.2,195.7 395.1,193.3 396.0,196.0 396.9,194.3 397.8,194.8 398.7,193.7 399.6,194.4 400.5,194.2 401.4,193.0 402.3,193.3 403.2,190.5 404.1,193.7 405.0,192.0 405.9,191.4 406.8,193.9 407.7,195.1 408.6,196.8 409.5,195.9 410.4,197.5 411.3,196.6 412.2,200.2 413.1,198.6 414.0,200.6 414.9,197.3 415.8,199.0 416.7,197.3 417.6,198.1 418.5,198.4" fill="none" stroke="#111" stroke-width="1.45" stroke-linejoin="round"/>
<path d="M290.7,254.5 291.6,252.1 292.5,250.5 293.4,248.8 294.3,246.8 295.2,245.4 296.1,242.2 297.0,242.1 297.9,241.2 298.8,239.2 299.7,237.4 300.6,233.5 301.5,234.5 302.4,231.5 303.3,230.5 304.2,231.0 305.1,227.1 306.0,227.5 306.9,226.2 307.8,224.6 308.7,223.6 309.6,224.5 310.5,223.1 311.4,224.1 312.3,223.5 313.2,220.4 314.1,220.8 315.0,220.7 315.9,219.5 316.8,219.3 317.7,220.2 318.6,219.2 319.5,217.2 320.4,218.0 321.3,218.1 322.2,216.8 323.1,216.7 324.0,218.6 324.9,218.1 325.8,215.1 326.7,215.4 327.6,216.8 328.5,215.4 329.4,216.6 330.3,216.2 331.2,216.8 332.1,214.1 333.0,214.0 333.9,215.0 334.8,217.4 335.7,215.9 336.6,214.3 337.5,216.2 338.4,215.9 339.3,215.2 340.2,214.2 341.1,214.5 342.0,215.4 342.9,213.9 343.8,214.6 344.7,214.1 345.6,213.5 346.5,213.5 347.4,214.2 348.3,213.5 349.2,213.5 350.1,214.0 351.0,214.2 351.9,215.3 352.8,213.5 353.7,216.1 354.6,214.9 355.5,214.7 356.4,214.8 357.3,216.8 358.2,216.5 359.1,215.3 360.0,214.5 360.9,215.0 361.8,214.3 362.7,215.2 363.6,212.0 364.5,211.4 365.4,212.6 366.3,212.6 367.2,212.1 368.1,212.3 369.0,213.6 369.9,211.4 370.8,211.8 371.7,211.0 372.6,212.8 373.5,213.6 374.4,212.9 375.3,214.5 376.2,213.8 377.1,215.4 378.0,214.0 378.9,212.3 379.8,212.7 380.7,211.6 381.6,211.4 382.5,213.4 383.4,213.8 384.3,214.5 385.2,212.5 386.1,212.3 387.0,211.3 387.9,213.3 388.8,212.2 389.7,210.8 390.6,212.2 391.5,212.1 392.4,210.1 393.3,212.5 394.2,211.2 395.1,210.3 396.0,210.4 396.9,212.1 397.8,212.3 398.7,212.5 399.6,209.7 400.5,210.3 401.4,211.7 402.3,209.4 403.2,210.0 404.1,209.3 405.0,212.3 405.9,212.1 406.8,211.5 407.7,211.1 408.6,211.5 409.5,211.5 410.4,212.7 411.3,212.3 412.2,213.7 413.1,212.9 414.0,212.6 414.9,214.2 415.8,212.9 416.7,213.3 417.6,212.1 418.5,210.0" fill="none" stroke="#111" stroke-width="1.45" stroke-linejoin="round"/>
<path d="M290.7,254.5 291.6,253.3 292.5,253.3 293.4,252.8 294.3,252.7 295.2,252.3 296.1,251.0 297.0,249.2 297.9,248.0 298.8,247.4 299.7,247.3 300.6,246.3 301.5,244.4 302.4,242.1 303.3,244.6 304.2,242.7 305.1,241.3 306.0,241.0 306.9,239.7 307.8,238.6 308.7,238.9 309.6,238.8 310.5,238.4 311.4,237.6 312.3,238.2 313.2,238.5 314.1,237.1 315.0,236.8 315.9,234.7 316.8,235.6 317.7,235.0 318.6,233.7 319.5,232.7 320.4,233.9 321.3,232.3 322.2,233.1 323.1,232.0 324.0,232.5 324.9,231.7 325.8,230.6 326.7,231.5 327.6,231.1 328.5,231.4 329.4,229.9 330.3,229.5 331.2,230.7 332.1,230.8 333.0,230.7 333.9,231.4 334.8,230.4 335.7,231.1 336.6,231.3 337.5,230.7 338.4,230.8 339.3,230.7 340.2,232.0 341.1,229.9 342.0,229.2 342.9,228.7 343.8,228.8 344.7,229.3 345.6,228.1 346.5,227.6 347.4,229.5 348.3,227.5 349.2,229.0 350.1,228.8 351.0,229.3 351.9,229.2 352.8,227.9 353.7,227.0 354.6,226.8 355.5,227.4 356.4,228.2 357.3,226.3 358.2,227.5 359.1,226.8 360.0,226.8 360.9,225.3 361.8,225.4 362.7,225.0 363.6,225.1 364.5,224.3 365.4,225.9 366.3,226.5 367.2,225.3 368.1,225.2 369.0,224.3 369.9,226.9 370.8,225.0 371.7,226.3 372.6,225.5 373.5,224.3 374.4,225.8 375.3,225.0 376.2,225.3 377.1,225.6 378.0,225.2 378.9,224.7 379.8,225.0 380.7,224.3 381.6,224.6 382.5,223.9 383.4,223.3 384.3,223.6 385.2,223.7 386.1,223.7 387.0,225.0 387.9,222.7 388.8,224.3 389.7,222.9 390.6,223.5 391.5,223.9 392.4,222.3 393.3,222.4 394.2,224.0 395.1,223.8 396.0,223.5 396.9,222.7 397.8,225.1 398.7,222.7 399.6,222.0 400.5,223.8 401.4,222.6 402.3,221.6 403.2,222.9 404.1,221.9 405.0,222.2 405.9,222.0 406.8,220.4 407.7,222.0 408.6,220.8 409.5,219.5 410.4,219.7 411.3,220.9 412.2,219.9 413.1,220.1 414.0,220.7 414.9,220.1 415.8,218.2 416.7,219.7 417.6,219.9 418.5,220.7" fill="none" stroke="#111" stroke-width="1.45" stroke-linejoin="round"/>
<path d="M290.7,254.5 291.6,254.6 292.5,254.1 293.4,254.1 294.3,253.7 295.2,254.5 296.1,253.7 297.0,253.4 297.9,250.4 298.8,252.0 299.7,251.7 300.6,251.6 301.5,250.2 302.4,248.4 303.3,249.7 304.2,248.7 305.1,247.4 306.0,247.9 306.9,248.4 307.8,248.0 308.7,247.2 309.6,245.7 310.5,247.7 311.4,245.3 312.3,245.9 313.2,244.8 314.1,246.1 315.0,244.9 315.9,244.8 316.8,244.1 317.7,243.7 318.6,243.9 319.5,242.4 320.4,243.8 321.3,243.6 322.2,242.5 323.1,242.0 324.0,241.9 324.9,242.2 325.8,241.3 326.7,241.0 327.6,240.5 328.5,239.6 329.4,239.9 330.3,240.2 331.2,240.0 332.1,240.2 333.0,240.4 333.9,240.1 334.8,239.7 335.7,239.6 336.6,239.3 337.5,238.7 338.4,238.9 339.3,237.6 340.2,239.4 341.1,238.0 342.0,239.4 342.9,239.0 343.8,239.5 344.7,238.7 345.6,238.0 346.5,239.0 347.4,238.6 348.3,238.7 349.2,239.0 350.1,239.7 351.0,239.3 351.9,238.9 352.8,237.4 353.7,238.0 354.6,238.5 355.5,239.5 356.4,238.8 357.3,238.3 358.2,238.8 359.1,238.2 360.0,237.9 360.9,238.2 361.8,237.2 362.7,238.1 363.6,237.7 364.5,236.9 365.4,236.2 366.3,237.1 367.2,237.9 368.1,236.8 369.0,236.4 369.9,237.3 370.8,235.9 371.7,235.5 372.6,236.4 373.5,236.3 374.4,236.5 375.3,236.0 376.2,236.6 377.1,236.0 378.0,235.6 378.9,235.8 379.8,236.2 380.7,236.3 381.6,236.6 382.5,236.3 383.4,234.1 384.3,235.5 385.2,236.1 386.1,236.5 387.0,235.2 387.9,237.0 388.8,235.9 389.7,235.4 390.6,236.0 391.5,236.0 392.4,235.9 393.3,236.6 394.2,236.1 395.1,235.4 396.0,235.8 396.9,236.1 397.8,235.5 398.7,236.9 399.6,235.1 400.5,236.6 401.4,235.9 402.3,234.4 403.2,235.2 404.1,235.9 405.0,234.9 405.9,234.4 406.8,235.4 407.7,236.6 408.6,234.5 409.5,236.0 410.4,235.5 411.3,235.0 412.2,235.2 413.1,234.9 414.0,235.4 414.9,235.1 415.8,233.7 416.7,235.2 417.6,233.4 418.5,234.8" fill="none" stroke="#111" stroke-width="1.45" stroke-linejoin="round"/>
<path d="M290.7,254.5 291.6,253.8 292.5,255.2 293.4,254.4 294.3,254.8 295.2,254.9 296.1,254.5 297.0,254.5 297.9,253.9 298.8,254.1 299.7,255.0 300.6,254.6 301.5,253.9 302.4,253.9 303.3,253.5 304.2,253.6 305.1,253.3 306.0,253.0 306.9,252.5 307.8,252.7 308.7,251.5 309.6,250.4 310.5,251.6 311.4,250.5 312.3,250.7 313.2,249.9 314.1,251.0 315.0,249.6 315.9,250.5 316.8,250.3 317.7,249.6 318.6,249.3 319.5,250.2 320.4,249.6 321.3,249.5 322.2,250.0 323.1,248.6 324.0,248.4 324.9,248.0 325.8,247.8 326.7,247.3 327.6,247.0 328.5,248.8 329.4,246.3 330.3,247.4 331.2,247.2 332.1,246.6 333.0,245.7 333.9,246.4 334.8,246.4 335.7,246.1 336.6,246.6 337.5,246.2 338.4,245.4 339.3,245.8 340.2,245.0 341.1,245.8 342.0,245.1 342.9,245.5 343.8,245.0 344.7,244.9 345.6,244.1 346.5,244.4 347.4,244.0 348.3,244.3 349.2,244.7 350.1,244.6 351.0,243.5 351.9,243.9 352.8,242.7 353.7,242.3 354.6,243.3 355.5,243.5 356.4,243.0 357.3,242.8 358.2,244.0 359.1,242.9 360.0,242.1 360.9,244.6 361.8,243.7 362.7,243.4 363.6,244.0 364.5,243.0 365.4,244.0 366.3,242.1 367.2,242.4 368.1,242.8 369.0,242.2 369.9,243.7 370.8,242.0 371.7,242.6 372.6,243.2 373.5,243.3 374.4,243.4 375.3,243.0 376.2,244.0 377.1,242.3 378.0,242.7 378.9,242.9 379.8,242.1 380.7,242.1 381.6,241.9 382.5,242.0 383.4,241.9 384.3,242.1 385.2,241.3 386.1,242.2 387.0,240.9 387.9,243.1 388.8,242.9 389.7,242.7 390.6,241.9 391.5,241.7 392.4,242.8 393.3,242.2 394.2,242.6 395.1,241.7 396.0,243.0 396.9,241.6 397.8,242.1 398.7,241.2 399.6,241.8 400.5,242.7 401.4,242.3 402.3,242.2 403.2,242.8 404.1,241.9 405.0,242.7 405.9,240.3 406.8,242.2 407.7,242.3 408.6,240.8 409.5,240.8 410.4,242.1 411.3,241.1 412.2,241.4 413.1,242.3 414.0,241.8 414.9,242.0 415.8,241.2 416.7,241.7 417.6,242.1 418.5,241.7" fill="none" stroke="#111" stroke-width="1.45" stroke-linejoin="round"/>
<path d="M290.7,255.5 291.6,256.3 292.5,255.6 293.4,255.6 294.3,256.1 295.2,254.9 296.1,255.8 297.0,256.1 297.9,255.4 298.8,255.2 299.7,255.9 300.6,255.9 301.5,255.9 302.4,256.1 303.3,256.2 304.2,255.3 305.1,255.1 306.0,256.0 306.9,256.3 307.8,256.6 308.7,255.8 309.6,257.0 310.5,256.5 311.4,255.5 312.3,255.3 313.2,255.2 314.1,255.6 315.0,253.8 315.9,254.6 316.8,254.0 317.7,253.4 318.6,253.8 319.5,253.5 320.4,252.1 321.3,252.5 322.2,252.5 323.1,251.3 324.0,252.3 324.9,251.7 325.8,252.1 326.7,252.2 327.6,253.3 328.5,252.0 329.4,251.9 330.3,253.3 331.2,251.9 332.1,252.1 333.0,251.3 333.9,252.8 334.8,252.2 335.7,252.0 336.6,251.9 337.5,251.5 338.4,251.0 339.3,251.1 340.2,252.0 341.1,251.8 342.0,252.8 342.9,251.1 343.8,251.1 344.7,251.0 345.6,252.5 346.5,251.1 347.4,252.2 348.3,252.4 349.2,251.3 350.1,251.5 351.0,249.7 351.9,250.9 352.8,250.0 353.7,251.5 354.6,251.3 355.5,250.7 356.4,251.7 357.3,251.1 358.2,250.6 359.1,250.5 360.0,250.0 360.9,250.6 361.8,252.2 362.7,250.6 363.6,251.2 364.5,250.7 365.4,251.4 366.3,251.0 367.2,250.9 368.1,249.5 369.0,250.1 369.9,250.9 370.8,249.7 371.7,250.4 372.6,250.2 373.5,249.6 374.4,251.2 375.3,251.3 376.2,250.2 377.1,250.3 378.0,250.6 378.9,249.9 379.8,250.5 380.7,250.2 381.6,248.4 382.5,249.6 383.4,249.3 384.3,249.1 385.2,249.9 386.1,249.3 387.0,249.8 387.9,250.0 388.8,249.6 389.7,248.6 390.6,249.0 391.5,249.8 392.4,248.8 393.3,248.5 394.2,248.6 395.1,249.1 396.0,249.0 396.9,249.0 397.8,248.3 398.7,248.5 399.6,248.4 400.5,248.5 401.4,247.1 402.3,248.6 403.2,247.7 404.1,249.4 405.0,249.4 405.9,249.2 406.8,248.8 407.7,247.7 408.6,248.7 409.5,247.7 410.4,248.2 411.3,247.3 412.2,247.1 413.1,247.8 414.0,248.9 414.9,248.4 415.8,250.1 416.7,250.8 417.6,248.5 418.5,249.5" fill="none" stroke="#111" stroke-width="1.45" stroke-linejoin="round"/>
<path d="M290.7,257.0 291.6,256.7 292.5,257.0 293.4,256.7 294.3,255.9 295.2,257.5 296.1,256.0 297.0,257.0 297.9,256.6 298.8,257.2 299.7,255.2 300.6,257.6 301.5,256.5 302.4,255.8 303.3,256.6 304.2,257.8 305.1,256.5 306.0,255.4 306.9,255.8 307.8,257.0 308.7,255.3 309.6,256.3 310.5,256.2 311.4,257.7 312.3,256.1 313.2,257.2 314.1,256.2 315.0,256.2 315.9,257.4 316.8,256.7 317.7,255.0 318.6,256.4 319.5,256.3 320.4,255.5 321.3,255.9 322.2,255.9 323.1,255.4 324.0,255.2 324.9,255.2 325.8,255.6 326.7,254.8 327.6,255.9 328.5,254.9 329.4,255.8 330.3,255.7 331.2,254.9 332.1,256.3 333.0,257.1 333.9,256.8 334.8,255.2 335.7,257.0 336.6,256.1 337.5,256.2 338.4,255.9 339.3,256.0 340.2,256.8 341.1,256.2 342.0,255.8 342.9,256.0 343.8,256.1 344.7,256.6 345.6,257.3 346.5,255.5 347.4,256.4 348.3,256.3 349.2,256.0 350.1,256.7 351.0,256.8 351.9,256.0 352.8,256.4 353.7,257.8 354.6,257.0 355.5,256.7 356.4,256.0 357.3,255.8 358.2,256.4 359.1,255.8 360.0,255.5 360.9,256.1 361.8,256.9 362.7,255.8 363.6,257.0 364.5,257.0 365.4,256.0 366.3,256.6 367.2,256.6 368.1,256.8 369.0,256.8 369.9,255.5 370.8,255.6 371.7,257.2 372.6,256.8 373.5,257.0 374.4,256.6 375.3,257.0 376.2,255.2 377.1,256.8 378.0,255.8 378.9,256.8 379.8,257.3 380.7,255.4 381.6,256.7 382.5,256.4 383.4,256.0 384.3,256.4 385.2,255.5 386.1,255.3 387.0,256.2 387.9,256.1 388.8,255.3 389.7,254.9 390.6,257.4 391.5,256.7 392.4,256.2 393.3,255.4 394.2,255.4 395.1,255.8 396.0,255.2 396.9,256.8 397.8,255.9 398.7,256.3 399.6,255.5 400.5,255.7 401.4,255.8 402.3,256.5 403.2,256.4 404.1,256.1 405.0,256.8 405.9,256.3 406.8,257.0 407.7,256.0 408.6,255.0 409.5,256.1 410.4,256.9 411.3,255.8 412.2,256.6 413.1,256.2 414.0,256.4 414.9,256.1 415.8,255.3 416.7,255.7 417.6,256.5 418.5,256.6" fill="none" stroke="#111" stroke-width="1.45" stroke-linejoin="round"/>
<path d="M427.3,245.5 428.2,246.2 429.1,242.5 430.0,241.9 430.9,240.1 431.8,238.9 432.7,239.0 433.6,236.5 434.5,234.8 435.4,234.6 436.3,234.7 437.2,232.4 438.1,231.7 439.0,232.0 439.9,230.5 440.8,229.9 441.7,229.7 442.6,227.4 443.5,227.9 444.4,226.9 445.3,227.8 446.2,227.0 447.1,225.1 448.0,226.3 448.9,223.5 449.8,225.2 450.7,223.9 451.6,222.7 452.5,222.6 453.4,222.8 454.3,222.9 455.2,222.1 456.1,222.6 457.0,221.0 457.9,221.6 458.8,221.7 459.7,220.0 460.6,221.7 461.5,220.8 462.4,219.7 463.3,221.3 464.2,221.4 465.1,221.7 466.0,219.9 466.9,221.2 467.8,220.8 468.7,220.4 469.6,220.1 470.5,219.2 471.4,218.1 472.3,218.8 473.2,219.0 474.1,218.5 475.0,217.8 475.9,216.8 476.8,219.2 477.7,218.3 478.6,217.2 479.5,218.3 480.4,218.6 481.3,218.1 482.2,218.7 483.1,218.1 484.0,216.0 484.9,217.0 485.8,217.4 486.7,217.7 487.6,217.8 488.5,214.7 489.4,216.2 490.3,216.8 491.2,217.1 492.1,217.1 493.0,214.2 493.9,214.8 494.8,214.6 495.7,216.4 496.6,215.2 497.5,217.4 498.4,217.4 499.3,217.6 500.2,215.8 501.1,217.3 502.0,218.6 502.9,216.9 503.8,217.8 504.7,218.4 505.6,219.3 506.5,219.0 507.4,219.1 508.3,218.5 509.2,218.7 510.1,218.6 511.0,219.0 511.9,218.0 512.8,219.4 513.7,217.0 514.6,220.1 515.5,218.9 516.4,220.2 517.3,219.6 518.2,220.2 519.1,221.0 520.0,219.0 520.9,219.7 521.8,219.5 522.7,219.4 523.6,217.7 524.5,218.9 525.4,218.8 526.3,218.5 527.2,219.1 528.1,217.7 529.0,220.2 529.9,219.1 530.8,220.2 531.7,218.1 532.6,217.8 533.5,219.5 534.4,218.5 535.3,220.1 536.2,219.5 537.1,219.8 538.0,220.0 538.9,220.0 539.8,221.4 540.7,220.2 541.6,219.0 542.5,221.1 543.4,220.0 544.3,222.0 545.2,221.1 546.1,222.1 547.0,223.6 547.9,221.3 548.8,220.8 549.7,220.1 550.6,219.7 551.5,221.3 552.4,218.3 553.3,218.4 554.2,219.7 555.1,217.4 556.0,218.2" fill="none" stroke="#111" stroke-width="1.65" stroke-linejoin="round"/>
<path d="M427.3,246.0 428.2,245.9 429.1,244.6 430.0,244.5 430.9,244.4 431.8,242.4 432.7,241.1 433.6,240.0 434.5,239.7 435.4,238.6 436.3,238.3 437.2,237.0 438.1,238.2 439.0,235.9 439.9,234.1 440.8,234.8 441.7,233.9 442.6,233.2 443.5,231.2 444.4,232.7 445.3,231.2 446.2,230.8 447.1,229.5 448.0,230.7 448.9,230.1 449.8,230.3 450.7,228.6 451.6,227.7 452.5,228.3 453.4,227.6 454.3,228.3 455.2,226.9 456.1,227.5 457.0,227.3 457.9,227.0 458.8,226.7 459.7,226.1 460.6,226.7 461.5,226.4 462.4,226.7 463.3,226.6 464.2,225.0 465.1,226.0 466.0,226.6 466.9,225.1 467.8,224.8 468.7,224.3 469.6,223.4 470.5,222.6 471.4,224.3 472.3,224.7 473.2,224.2 474.1,224.2 475.0,223.8 475.9,223.2 476.8,223.6 477.7,223.3 478.6,223.3 479.5,222.4 480.4,222.4 481.3,222.9 482.2,222.3 483.1,220.8 484.0,222.4 484.9,220.6 485.8,223.5 486.7,222.7 487.6,222.7 488.5,221.7 489.4,221.4 490.3,221.9 491.2,222.3 492.1,222.2 493.0,222.8 493.9,223.3 494.8,223.2 495.7,222.0 496.6,221.8 497.5,223.7 498.4,223.2 499.3,224.3 500.2,225.0 501.1,225.2 502.0,224.7 502.9,225.2 503.8,225.6 504.7,224.3 505.6,224.4 506.5,224.7 507.4,224.0 508.3,223.6 509.2,223.2 510.1,223.7 511.0,223.2 511.9,224.0 512.8,223.4 513.7,224.4 514.6,224.1 515.5,222.3 516.4,223.8 517.3,222.8 518.2,224.0 519.1,223.6 520.0,222.8 520.9,223.4 521.8,222.4 522.7,222.8 523.6,223.0 524.5,222.6 525.4,223.1 526.3,222.4 527.2,223.5 528.1,222.0 529.0,223.0 529.9,222.7 530.8,223.0 531.7,222.2 532.6,224.6 533.5,222.2 534.4,222.2 535.3,221.5 536.2,222.9 537.1,221.4 538.0,222.4 538.9,221.4 539.8,222.6 540.7,222.4 541.6,223.5 542.5,222.5 543.4,222.4 544.3,223.7 545.2,222.4 546.1,223.0 547.0,223.8 547.9,222.1 548.8,224.1 549.7,223.1 550.6,223.0 551.5,223.6 552.4,224.1 553.3,223.4 554.2,223.5 555.1,224.2 556.0,224.2" fill="none" stroke="#111" stroke-width="1.65" stroke-linejoin="round"/>
<path d="M427.3,247.0 428.2,247.3 429.1,246.9 430.0,247.0 430.9,246.9 431.8,247.3 432.7,245.7 433.6,243.9 434.5,245.3 435.4,244.1 436.3,242.8 437.2,242.7 438.1,241.9 439.0,242.0 439.9,241.7 440.8,241.0 441.7,240.3 442.6,239.8 443.5,240.4 444.4,239.8 445.3,240.6 446.2,238.3 447.1,239.1 448.0,238.3 448.9,237.6 449.8,238.5 450.7,237.2 451.6,236.3 452.5,236.4 453.4,237.0 454.3,235.2 455.2,236.2 456.1,235.2 457.0,234.6 457.9,235.7 458.8,235.7 459.7,235.0 460.6,234.7 461.5,235.7 462.4,235.2 463.3,233.5 464.2,233.2 465.1,232.4 466.0,232.1 466.9,231.4 467.8,232.8 468.7,232.1 469.6,231.7 470.5,231.8 471.4,230.5 472.3,230.5 473.2,230.4 474.1,230.1 475.0,230.2 475.9,231.0 476.8,230.7 477.7,231.4 478.6,229.9 479.5,230.3 480.4,229.4 481.3,230.1 482.2,229.6 483.1,230.9 484.0,230.1 484.9,229.6 485.8,230.4 486.7,230.2 487.6,229.8 488.5,228.9 489.4,228.4 490.3,229.1 491.2,228.7 492.1,228.3 493.0,228.5 493.9,227.6 494.8,229.6 495.7,228.0 496.6,227.9 497.5,228.7 498.4,227.3 499.3,229.1 500.2,229.2 501.1,228.3 502.0,227.6 502.9,227.8 503.8,226.8 504.7,228.8 505.6,227.9 506.5,227.5 507.4,227.6 508.3,228.3 509.2,229.1 510.1,227.1 511.0,227.4 511.9,227.0 512.8,228.6 513.7,228.2 514.6,229.7 515.5,228.4 516.4,228.3 517.3,228.3 518.2,229.1 519.1,227.5 520.0,228.9 520.9,229.2 521.8,228.8 522.7,228.9 523.6,230.3 524.5,230.6 525.4,229.2 526.3,229.7 527.2,230.5 528.1,229.5 529.0,230.0 529.9,229.7 530.8,230.1 531.7,229.6 532.6,229.3 533.5,229.1 534.4,228.7 535.3,229.1 536.2,229.4 537.1,230.6 538.0,229.9 538.9,229.7 539.8,230.4 540.7,230.3 541.6,229.5 542.5,229.8 543.4,230.8 544.3,230.5 545.2,229.6 546.1,230.3 547.0,230.1 547.9,230.7 548.8,229.7 549.7,230.5 550.6,230.1 551.5,229.1 552.4,230.3 553.3,230.2 554.2,228.8 555.1,230.8 556.0,228.7" fill="none" stroke="#111" stroke-width="1.65" stroke-linejoin="round"/>
<path d="M427.3,249.0 428.2,248.8 429.1,248.5 430.0,247.5 430.9,249.2 431.8,248.0 432.7,247.9 433.6,247.3 434.5,247.9 435.4,246.7 436.3,247.2 437.2,247.2 438.1,247.2 439.0,246.4 439.9,245.8 440.8,244.5 441.7,245.4 442.6,245.0 443.5,244.3 444.4,243.9 445.3,243.3 446.2,242.8 447.1,243.5 448.0,243.5 448.9,242.1 449.8,243.0 450.7,242.6 451.6,242.6 452.5,241.9 453.4,242.2 454.3,242.2 455.2,242.2 456.1,240.9 457.0,242.1 457.9,241.3 458.8,240.7 459.7,241.6 460.6,240.5 461.5,241.8 462.4,241.9 463.3,240.7 464.2,241.3 465.1,240.7 466.0,240.4 466.9,239.1 467.8,240.0 468.7,239.4 469.6,239.7 470.5,238.7 471.4,239.2 472.3,238.6 473.2,238.6 474.1,238.9 475.0,238.2 475.9,238.7 476.8,238.1 477.7,238.2 478.6,237.5 479.5,238.1 480.4,238.5 481.3,237.8 482.2,238.3 483.1,237.9 484.0,236.9 484.9,237.5 485.8,238.0 486.7,237.0 487.6,236.1 488.5,237.2 489.4,236.6 490.3,238.2 491.2,237.1 492.1,237.1 493.0,236.9 493.9,237.2 494.8,236.8 495.7,236.4 496.6,236.6 497.5,236.5 498.4,237.5 499.3,236.2 500.2,236.9 501.1,236.2 502.0,235.6 502.9,237.4 503.8,235.2 504.7,237.1 505.6,235.6 506.5,236.3 507.4,237.4 508.3,234.5 509.2,234.9 510.1,236.3 511.0,235.7 511.9,235.7 512.8,235.8 513.7,235.5 514.6,236.1 515.5,236.8 516.4,235.7 517.3,235.9 518.2,236.6 519.1,236.9 520.0,235.3 520.9,235.8 521.8,235.2 522.7,235.0 523.6,235.4 524.5,235.4 525.4,234.9 526.3,234.8 527.2,235.5 528.1,235.7 529.0,236.0 529.9,235.0 530.8,235.2 531.7,235.8 532.6,235.9 533.5,235.3 534.4,235.2 535.3,236.3 536.2,235.1 537.1,235.2 538.0,234.8 538.9,236.0 539.8,235.4 540.7,236.5 541.6,235.2 542.5,235.6 543.4,236.0 544.3,236.6 545.2,235.0 546.1,236.7 547.0,235.9 547.9,235.7 548.8,235.6 549.7,235.7 550.6,235.7 551.5,234.8 552.4,236.5 553.3,236.2 554.2,235.6 555.1,235.8 556.0,237.1" fill="none" stroke="#111" stroke-width="1.65" stroke-linejoin="round"/>
<path d="M427.3,251.0 428.2,250.8 429.1,250.7 430.0,251.2 430.9,250.8 431.8,251.0 432.7,251.3 433.6,250.8 434.5,250.6 435.4,250.4 436.3,250.3 437.2,250.0 438.1,249.8 439.0,249.9 439.9,248.6 440.8,249.0 441.7,249.2 442.6,248.6 443.5,248.8 444.4,248.3 445.3,248.9 446.2,248.8 447.1,249.1 448.0,248.8 448.9,248.0 449.8,248.2 450.7,247.9 451.6,248.0 452.5,246.5 453.4,247.5 454.3,246.6 455.2,247.4 456.1,247.1 457.0,247.1 457.9,247.2 458.8,247.0 459.7,246.5 460.6,246.7 461.5,246.9 462.4,246.1 463.3,246.1 464.2,245.4 465.1,246.2 466.0,245.2 466.9,244.8 467.8,244.9 468.7,244.3 469.6,244.7 470.5,245.1 471.4,244.7 472.3,245.0 473.2,245.0 474.1,243.9 475.0,244.6 475.9,245.1 476.8,245.2 477.7,243.7 478.6,243.5 479.5,244.4 480.4,243.9 481.3,243.5 482.2,244.0 483.1,243.5 484.0,242.8 484.9,243.7 485.8,243.9 486.7,244.0 487.6,244.5 488.5,244.4 489.4,244.2 490.3,244.0 491.2,243.2 492.1,243.5 493.0,244.0 493.9,243.7 494.8,244.3 495.7,243.4 496.6,242.7 497.5,243.8 498.4,244.1 499.3,243.2 500.2,243.0 501.1,243.7 502.0,243.8 502.9,243.0 503.8,243.2 504.7,243.0 505.6,243.0 506.5,243.0 507.4,243.8 508.3,243.5 509.2,243.4 510.1,242.6 511.0,244.2 511.9,243.0 512.8,243.2 513.7,242.8 514.6,243.6 515.5,243.0 516.4,243.6 517.3,243.2 518.2,243.5 519.1,242.4 520.0,242.5 520.9,242.7 521.8,243.7 522.7,242.3 523.6,242.9 524.5,242.7 525.4,243.1 526.3,243.1 527.2,243.1 528.1,243.1 529.0,243.0 529.9,242.8 530.8,242.9 531.7,242.3 532.6,242.9 533.5,242.6 534.4,242.8 535.3,243.2 536.2,243.0 537.1,243.0 538.0,243.1 538.9,241.6 539.8,242.6 540.7,242.5 541.6,242.5 542.5,242.0 543.4,242.8 544.3,243.0 545.2,243.1 546.1,242.7 547.0,242.9 547.9,243.0 548.8,243.2 549.7,242.8 550.6,242.4 551.5,242.2 552.4,242.2 553.3,242.0 554.2,241.7 555.1,242.3 556.0,241.7" fill="none" stroke="#111" stroke-width="1.65" stroke-linejoin="round"/>
<path d="M427.3,252.6 428.2,252.4 429.1,252.4 430.0,252.5 430.9,251.6 431.8,252.6 432.7,252.4 433.6,251.4 434.5,252.7 435.4,252.1 436.3,252.0 437.2,252.0 438.1,251.5 439.0,251.3 439.9,251.5 440.8,251.5 441.7,252.5 442.6,252.1 443.5,251.2 444.4,251.2 445.3,251.4 446.2,251.6 447.1,251.0 448.0,250.7 448.9,251.8 449.8,251.2 450.7,249.9 451.6,249.9 452.5,250.3 453.4,250.7 454.3,250.8 455.2,250.1 456.1,249.6 457.0,250.2 457.9,250.1 458.8,249.9 459.7,249.6 460.6,250.1 461.5,250.1 462.4,249.6 463.3,249.8 464.2,249.2 465.1,250.1 466.0,249.7 466.9,249.1 467.8,249.7 468.7,249.9 469.6,248.4 470.5,249.1 471.4,249.6 472.3,248.2 473.2,248.7 474.1,248.3 475.0,248.7 475.9,247.6 476.8,247.9 477.7,248.2 478.6,248.6 479.5,248.8 480.4,249.0 481.3,249.2 482.2,248.9 483.1,248.8 484.0,247.9 484.9,248.2 485.8,249.6 486.7,249.1 487.6,248.5 488.5,248.5 489.4,248.5 490.3,247.7 491.2,248.6 492.1,247.4 493.0,247.5 493.9,248.5 494.8,246.8 495.7,247.8 496.6,247.2 497.5,247.7 498.4,247.9 499.3,248.0 500.2,247.7 501.1,247.3 502.0,247.6 502.9,246.8 503.8,247.4 504.7,247.0 505.6,247.6 506.5,247.0 507.4,247.6 508.3,247.3 509.2,247.3 510.1,247.8 511.0,247.6 511.9,247.0 512.8,248.1 513.7,246.8 514.6,248.1 515.5,247.4 516.4,246.9 517.3,247.7 518.2,247.5 519.1,248.6 520.0,247.5 520.9,248.6 521.8,248.2 522.7,247.3 523.6,247.3 524.5,248.0 525.4,247.4 526.3,247.4 527.2,247.1 528.1,246.7 529.0,247.0 529.9,246.8 530.8,246.6 531.7,247.2 532.6,248.1 533.5,248.1 534.4,247.3 535.3,247.5 536.2,247.7 537.1,248.1 538.0,247.8 538.9,247.5 539.8,247.6 540.7,248.1 541.6,248.6 542.5,247.0 543.4,246.2 544.3,247.4 545.2,247.0 546.1,247.1 547.0,247.6 547.9,247.2 548.8,246.5 549.7,246.1 550.6,246.9 551.5,246.5 552.4,247.2 553.3,246.7 554.2,246.8 555.1,246.2 556.0,246.6" fill="none" stroke="#111" stroke-width="1.65" stroke-linejoin="round"/>
<path d="M427.3,254.6 428.2,254.5 429.1,256.0 430.0,254.8 430.9,254.2 431.8,254.1 432.7,254.1 433.6,254.5 434.5,254.2 435.4,254.3 436.3,254.6 437.2,254.2 438.1,253.9 439.0,254.5 439.9,254.1 440.8,253.3 441.7,253.0 442.6,253.2 443.5,253.3 444.4,253.8 445.3,253.9 446.2,253.1 447.1,252.9 448.0,253.4 448.9,253.6 449.8,253.1 450.7,253.5 451.6,253.8 452.5,253.4 453.4,253.0 454.3,252.2 455.2,253.7 456.1,253.2 457.0,253.0 457.9,252.6 458.8,252.1 459.7,252.5 460.6,252.4 461.5,252.8 462.4,251.8 463.3,253.0 464.2,252.3 465.1,252.8 466.0,251.8 466.9,252.5 467.8,252.8 468.7,252.3 469.6,251.6 470.5,251.9 471.4,252.2 472.3,251.4 473.2,251.3 474.1,252.0 475.0,251.5 475.9,252.2 476.8,251.2 477.7,250.8 478.6,250.9 479.5,251.9 480.4,251.1 481.3,251.6 482.2,251.9 483.1,251.4 484.0,252.2 484.9,251.6 485.8,251.5 486.7,250.4 487.6,250.3 488.5,249.9 489.4,251.2 490.3,251.2 491.2,251.7 492.1,252.0 493.0,251.0 493.9,250.9 494.8,251.1 495.7,251.4 496.6,250.4 497.5,251.1 498.4,250.8 499.3,250.9 500.2,251.4 501.1,250.7 502.0,250.6 502.9,251.2 503.8,250.9 504.7,250.9 505.6,250.8 506.5,251.1 507.4,250.7 508.3,251.1 509.2,251.1 510.1,251.8 511.0,251.6 511.9,251.5 512.8,251.0 513.7,251.1 514.6,250.7 515.5,252.2 516.4,250.9 517.3,251.2 518.2,251.6 519.1,250.4 520.0,250.6 520.9,250.6 521.8,250.2 522.7,250.2 523.6,250.5 524.5,251.4 525.4,251.1 526.3,250.7 527.2,250.7 528.1,250.2 529.0,251.2 529.9,251.0 530.8,250.5 531.7,250.9 532.6,250.6 533.5,250.6 534.4,250.4 535.3,250.3 536.2,250.4 537.1,250.9 538.0,250.7 538.9,250.8 539.8,250.4 540.7,250.3 541.6,251.6 542.5,249.9 543.4,251.2 544.3,251.0 545.2,250.7 546.1,250.6 547.0,250.7 547.9,250.3 548.8,250.2 549.7,250.6 550.6,249.9 551.5,251.0 552.4,251.2 553.3,249.2 554.2,250.0 555.1,250.7 556.0,250.6" fill="none" stroke="#111" stroke-width="1.65" stroke-linejoin="round"/>
<path d="M427.3,256.2 428.2,256.1 429.1,256.1 430.0,256.0 430.9,256.1 431.8,255.2 432.7,256.1 433.6,256.1 434.5,255.4 435.4,256.0 436.3,256.6 437.2,255.5 438.1,256.0 439.0,255.5 439.9,255.2 440.8,255.4 441.7,255.7 442.6,256.6 443.5,256.5 444.4,255.7 445.3,256.5 446.2,255.8 447.1,255.5 448.0,256.0 448.9,255.2 449.8,255.0 450.7,256.4 451.6,255.1 452.5,256.1 453.4,255.1 454.3,255.7 455.2,255.5 456.1,255.4 457.0,254.8 457.9,255.6 458.8,255.6 459.7,255.6 460.6,256.0 461.5,256.4 462.4,255.8 463.3,256.2 464.2,255.5 465.1,256.0 466.0,256.0 466.9,256.5 467.8,255.6 468.7,255.5 469.6,255.8 470.5,254.8 471.4,255.6 472.3,254.9 473.2,254.7 474.1,255.5 475.0,255.1 475.9,255.5 476.8,254.2 477.7,255.0 478.6,254.4 479.5,254.4 480.4,253.9 481.3,254.9 482.2,254.6 483.1,254.0 484.0,253.7 484.9,253.9 485.8,254.9 486.7,254.4 487.6,254.3 488.5,254.7 489.4,254.3 490.3,254.3 491.2,254.7 492.1,254.4 493.0,254.8 493.9,253.9 494.8,254.4 495.7,254.3 496.6,254.4 497.5,254.3 498.4,253.9 499.3,254.1 500.2,254.5 501.1,253.8 502.0,253.5 502.9,254.3 503.8,254.5 504.7,253.9 505.6,254.0 506.5,253.5 507.4,253.7 508.3,254.5 509.2,254.4 510.1,254.2 511.0,254.0 511.9,253.3 512.8,254.1 513.7,254.0 514.6,254.3 515.5,254.7 516.4,253.9 517.3,254.3 518.2,253.2 519.1,254.2 520.0,254.0 520.9,254.1 521.8,254.0 522.7,253.8 523.6,254.1 524.5,253.4 525.4,253.8 526.3,253.7 527.2,253.1 528.1,252.9 529.0,253.6 529.9,254.0 530.8,254.1 531.7,254.1 532.6,253.4 533.5,253.7 534.4,254.2 535.3,253.5 536.2,253.6 537.1,253.1 538.0,253.7 538.9,254.0 539.8,252.7 540.7,253.7 541.6,253.8 542.5,253.2 543.4,253.3 544.3,253.0 545.2,253.1 546.1,253.8 547.0,253.8 547.9,253.6 548.8,253.9 549.7,253.5 550.6,253.0 551.5,254.0 552.4,253.8 553.3,252.7 554.2,253.8 555.1,253.4 556.0,253.2" fill="none" stroke="#111" stroke-width="1.65" stroke-linejoin="round"/>
<rect x="3.5" y="259" width="130" height="4.0" fill="#1a1a1a"/>
<rect x="140" y="260.5" width="130.5" height="3.3" fill="#111"/>
<rect x="289.5" y="260.4" width="129.3" height="3.3" fill="#111"/>
<rect x="426.5" y="258" width="129.5" height="5.3" fill="#111"/>
<line x1="2.5" y1="177.5" x2="2.5" y2="263" stroke="#999" stroke-width="1"/>
<line x1="3.7" y1="243" x2="3.7" y2="263.3" stroke="#222" stroke-width="1.6"/>
<line x1="140.1" y1="243" x2="140.1" y2="263.5" stroke="#666" stroke-width="1.1"/>
<line x1="289.2" y1="175.4" x2="289.2" y2="263.5" stroke="#aaa" stroke-width="1"/>
<line x1="289.5" y1="217" x2="289.5" y2="263.5" stroke="#111" stroke-width="1.4"/>
<line x1="426.3" y1="207" x2="426.3" y2="263.3" stroke="#111" stroke-width="1.8"/>
<path d="M60.5,333.70 V485.90 M60.0,484.70 H270.50" fill="none" stroke="#333" stroke-width="1.1"/>
<line x1="57.90" y1="484.70" x2="60.5" y2="484.70" stroke="#333" stroke-width="1"/>
<line x1="58.90" y1="469.60" x2="60.5" y2="469.60" stroke="#333" stroke-width="1"/>
<line x1="57.90" y1="454.50" x2="60.5" y2="454.50" stroke="#333" stroke-width="1"/>
<line x1="58.90" y1="439.40" x2="60.5" y2="439.40" stroke="#333" stroke-width="1"/>
<line x1="57.90" y1="424.30" x2="60.5" y2="424.30" stroke="#333" stroke-width="1"/>
<line x1="58.90" y1="409.20" x2="60.5" y2="409.20" stroke="#333" stroke-width="1"/>
<line x1="57.90" y1="394.10" x2="60.5" y2="394.10" stroke="#333" stroke-width="1"/>
<line x1="58.90" y1="379.00" x2="60.5" y2="379.00" stroke="#333" stroke-width="1"/>
<line x1="57.90" y1="363.90" x2="60.5" y2="363.90" stroke="#333" stroke-width="1"/>
<line x1="58.90" y1="348.80" x2="60.5" y2="348.80" stroke="#333" stroke-width="1"/>
<line x1="57.90" y1="333.70" x2="60.5" y2="333.70" stroke="#333" stroke-width="1"/>
<line x1="75.50" y1="484.70" x2="75.50" y2="487.30" stroke="#333" stroke-width="1"/>
<line x1="90.50" y1="484.70" x2="90.50" y2="486.30" stroke="#333" stroke-width="1"/>
<line x1="105.50" y1="484.70" x2="105.50" y2="487.30" stroke="#333" stroke-width="1"/>
<line x1="120.50" y1="484.70" x2="120.50" y2="486.30" stroke="#333" stroke-width="1"/>
<line x1="135.50" y1="484.70" x2="135.50" y2="487.30" stroke="#333" stroke-width="1"/>
<line x1="150.50" y1="484.70" x2="150.50" y2="486.30" stroke="#333" stroke-width="1"/>
<line x1="165.50" y1="484.70" x2="165.50" y2="487.30" stroke="#333" stroke-width="1"/>
<line x1="180.50" y1="484.70" x2="180.50" y2="486.30" stroke="#333" stroke-width="1"/>
<line x1="195.50" y1="484.70" x2="195.50" y2="487.30" stroke="#333" stroke-width="1"/>
<line x1="210.50" y1="484.70" x2="210.50" y2="486.30" stroke="#333" stroke-width="1"/>
<line x1="225.50" y1="484.70" x2="225.50" y2="487.30" stroke="#333" stroke-width="1"/>
<line x1="240.50" y1="484.70" x2="240.50" y2="486.30" stroke="#333" stroke-width="1"/>
<line x1="255.50" y1="484.70" x2="255.50" y2="487.30" stroke="#333" stroke-width="1"/>
<line x1="270.50" y1="484.70" x2="270.50" y2="486.30" stroke="#333" stroke-width="1"/>
<path d="M75.50,453.59 90.50,452.81 105.50,451.69 120.50,449.37 135.50,444.53 150.50,438.49 165.50,430.64 180.50,422.49 195.50,411.92 210.50,404.07 225.50,391.08 240.50,371.75 255.50,346.69" fill="none" stroke="#111" stroke-width="1.8"/>
<path d="M75.50,453.59 90.50,452.81 105.50,451.69 120.50,450.27 135.50,447.86 150.50,444.23 165.50,440.00 180.50,435.17 195.50,429.43 210.50,423.70 225.50,417.35 240.50,407.09 255.50,396.21" fill="none" stroke="#111" stroke-width="1.8"/>
<circle cx="75.50" cy="453.59" r="4.3" fill="#111"/>
<circle cx="90.50" cy="452.81" r="4.3" fill="#111"/>
<circle cx="105.50" cy="451.69" r="4.3" fill="#111"/>
<circle cx="120.50" cy="449.37" r="4.3" fill="#111"/>
<circle cx="135.50" cy="444.53" r="4.3" fill="#111"/>
<circle cx="150.50" cy="438.49" r="4.3" fill="#111"/>
<circle cx="165.50" cy="430.64" r="4.3" fill="#111"/>
<circle cx="180.50" cy="422.49" r="4.3" fill="#111"/>
<circle cx="195.50" cy="411.92" r="4.3" fill="#111"/>
<circle cx="210.50" cy="404.07" r="4.3" fill="#111"/>
<circle cx="225.50" cy="391.08" r="4.3" fill="#111"/>
<circle cx="240.50" cy="371.75" r="4.3" fill="#111"/>
<circle cx="255.50" cy="346.69" r="4.3" fill="#111"/>
<circle cx="75.50" cy="453.59" r="3.7" fill="#fff" stroke="#111" stroke-width="1.2"/>
<circle cx="90.50" cy="452.81" r="3.7" fill="#fff" stroke="#111" stroke-width="1.2"/>
<circle cx="105.50" cy="451.69" r="3.7" fill="#fff" stroke="#111" stroke-width="1.2"/>
<circle cx="120.50" cy="450.27" r="3.7" fill="#fff" stroke="#111" stroke-width="1.2"/>
<circle cx="135.50" cy="447.86" r="3.7" fill="#fff" stroke="#111" stroke-width="1.2"/>
<circle cx="150.50" cy="444.23" r="3.7" fill="#fff" stroke="#111" stroke-width="1.2"/>
<circle cx="165.50" cy="440.00" r="3.7" fill="#fff" stroke="#111" stroke-width="1.2"/>
<circle cx="180.50" cy="435.17" r="3.7" fill="#fff" stroke="#111" stroke-width="1.2"/>
<circle cx="195.50" cy="429.43" r="3.7" fill="#fff" stroke="#111" stroke-width="1.2"/>
<circle cx="210.50" cy="423.70" r="3.7" fill="#fff" stroke="#111" stroke-width="1.2"/>
<circle cx="225.50" cy="417.35" r="3.7" fill="#fff" stroke="#111" stroke-width="1.2"/>
<circle cx="240.50" cy="407.09" r="3.7" fill="#fff" stroke="#111" stroke-width="1.2"/>
<circle cx="255.50" cy="396.21" r="3.7" fill="#fff" stroke="#111" stroke-width="1.2"/>
<polygon points="182.10,443.00 182.76,444.59 184.48,444.73 183.17,445.85 183.57,447.52 182.10,446.62 180.63,447.52 181.03,445.85 179.72,444.73 181.44,444.59" fill="#222"/>
<polygon points="197.10,437.30 197.76,438.89 199.48,439.03 198.17,440.15 198.57,441.82 197.10,440.93 195.63,441.82 196.03,440.15 194.72,439.03 196.44,438.89" fill="#222"/>
<polygon points="212.10,431.50 212.76,433.09 214.48,433.23 213.17,434.35 213.57,436.02 212.10,435.12 210.63,436.02 211.03,434.35 209.72,433.23 211.44,433.09" fill="#222"/>
<polygon points="227.10,424.70 227.76,426.29 229.48,426.43 228.17,427.55 228.57,429.22 227.10,428.32 225.63,429.22 226.03,427.55 224.72,426.43 226.44,426.29" fill="#222"/>
<polygon points="242.10,416.20 242.76,417.79 244.48,417.93 243.17,419.05 243.57,420.72 242.10,419.82 240.63,420.72 241.03,419.05 239.72,417.93 241.44,417.79" fill="#222"/>
<polygon points="257.10,405.90 257.76,407.49 259.48,407.63 258.17,408.75 258.57,410.42 257.10,409.52 255.63,410.42 256.03,408.75 254.72,407.63 256.44,407.49" fill="#222"/>
<line x1="70.9" y1="342.9" x2="94.5" y2="342.9" stroke="#111" stroke-width="1.3"/>
<circle cx="82.0" cy="342.9" r="4.5" fill="#111"/>
<line x1="70.9" y1="359.3" x2="94.5" y2="359.3" stroke="#111" stroke-width="1.3"/>
<circle cx="82.0" cy="359.3" r="3.9" fill="#fff" stroke="#111" stroke-width="1.2"/>
<path d="M336.2,333.70 V485.90 M335.7,484.70 H545.40" fill="none" stroke="#333" stroke-width="1.1"/>
<line x1="333.60" y1="484.70" x2="336.2" y2="484.70" stroke="#333" stroke-width="1"/>
<line x1="334.60" y1="469.60" x2="336.2" y2="469.60" stroke="#333" stroke-width="1"/>
<line x1="333.60" y1="454.50" x2="336.2" y2="454.50" stroke="#333" stroke-width="1"/>
<line x1="334.60" y1="439.40" x2="336.2" y2="439.40" stroke="#333" stroke-width="1"/>
<line x1="333.60" y1="424.30" x2="336.2" y2="424.30" stroke="#333" stroke-width="1"/>
<line x1="334.60" y1="409.20" x2="336.2" y2="409.20" stroke="#333" stroke-width="1"/>
<line x1="333.60" y1="394.10" x2="336.2" y2="394.10" stroke="#333" stroke-width="1"/>
<line x1="334.60" y1="379.00" x2="336.2" y2="379.00" stroke="#333" stroke-width="1"/>
<line x1="333.60" y1="363.90" x2="336.2" y2="363.90" stroke="#333" stroke-width="1"/>
<line x1="334.60" y1="348.80" x2="336.2" y2="348.80" stroke="#333" stroke-width="1"/>
<line x1="333.60" y1="333.70" x2="336.2" y2="333.70" stroke="#333" stroke-width="1"/>
<line x1="350.40" y1="484.70" x2="350.40" y2="487.30" stroke="#333" stroke-width="1"/>
<line x1="365.40" y1="484.70" x2="365.40" y2="486.30" stroke="#333" stroke-width="1"/>
<line x1="380.40" y1="484.70" x2="380.40" y2="487.30" stroke="#333" stroke-width="1"/>
<line x1="395.40" y1="484.70" x2="395.40" y2="486.30" stroke="#333" stroke-width="1"/>
<line x1="410.40" y1="484.70" x2="410.40" y2="487.30" stroke="#333" stroke-width="1"/>
<line x1="425.40" y1="484.70" x2="425.40" y2="486.30" stroke="#333" stroke-width="1"/>
<line x1="440.40" y1="484.70" x2="440.40" y2="487.30" stroke="#333" stroke-width="1"/>
<line x1="455.40" y1="484.70" x2="455.40" y2="486.30" stroke="#333" stroke-width="1"/>
<line x1="470.40" y1="484.70" x2="470.40" y2="487.30" stroke="#333" stroke-width="1"/>
<line x1="485.40" y1="484.70" x2="485.40" y2="486.30" stroke="#333" stroke-width="1"/>
<line x1="500.40" y1="484.70" x2="500.40" y2="487.30" stroke="#333" stroke-width="1"/>
<line x1="515.40" y1="484.70" x2="515.40" y2="486.30" stroke="#333" stroke-width="1"/>
<line x1="530.40" y1="484.70" x2="530.40" y2="487.30" stroke="#333" stroke-width="1"/>
<line x1="545.40" y1="484.70" x2="545.40" y2="486.30" stroke="#333" stroke-width="1"/>
<path d="M350.40,454.20 365.40,452.99 380.40,452.08 395.40,450.57 410.40,448.16 425.40,444.84 440.40,440.61 455.40,433.36 470.40,427.92 485.40,420.37 500.40,413.13 515.40,405.27 530.40,388.97" fill="none" stroke="#111" stroke-width="1.2"/>
<path d="M350.40,453.81 365.40,452.51 380.40,451.39 395.40,449.49 410.40,447.25 425.40,443.93 440.40,440.31 455.40,436.38 470.40,432.45 485.40,426.41 500.40,421.88 515.40,416.45 530.40,409.50" fill="none" stroke="#111" stroke-width="1.2"/>
<circle cx="350.40" cy="454.20" r="4.3" fill="#111"/>
<circle cx="365.40" cy="452.99" r="4.3" fill="#111"/>
<circle cx="380.40" cy="452.08" r="4.3" fill="#111"/>
<circle cx="395.40" cy="450.57" r="4.3" fill="#111"/>
<circle cx="410.40" cy="448.16" r="4.3" fill="#111"/>
<circle cx="425.40" cy="444.84" r="4.3" fill="#111"/>
<circle cx="440.40" cy="440.61" r="4.3" fill="#111"/>
<circle cx="455.40" cy="433.36" r="4.3" fill="#111"/>
<circle cx="470.40" cy="427.92" r="4.3" fill="#111"/>
<circle cx="485.40" cy="420.37" r="4.3" fill="#111"/>
<circle cx="500.40" cy="413.13" r="4.3" fill="#111"/>
<circle cx="515.40" cy="405.27" r="4.3" fill="#111"/>
<circle cx="530.40" cy="388.97" r="4.3" fill="#111"/>
<circle cx="350.40" cy="453.81" r="3.7" fill="#fff" stroke="#111" stroke-width="1.2"/>
<circle cx="365.40" cy="452.51" r="3.7" fill="#fff" stroke="#111" stroke-width="1.2"/>
<circle cx="380.40" cy="451.39" r="3.7" fill="#fff" stroke="#111" stroke-width="1.2"/>
<circle cx="395.40" cy="449.49" r="3.7" fill="#fff" stroke="#111" stroke-width="1.2"/>
<circle cx="410.40" cy="447.25" r="3.7" fill="#fff" stroke="#111" stroke-width="1.2"/>
<circle cx="425.40" cy="443.93" r="3.7" fill="#fff" stroke="#111" stroke-width="1.2"/>
<circle cx="440.40" cy="440.31" r="3.7" fill="#fff" stroke="#111" stroke-width="1.2"/>
<circle cx="455.40" cy="436.38" r="3.7" fill="#fff" stroke="#111" stroke-width="1.2"/>
<circle cx="470.40" cy="432.45" r="3.7" fill="#fff" stroke="#111" stroke-width="1.2"/>
<circle cx="485.40" cy="426.41" r="3.7" fill="#fff" stroke="#111" stroke-width="1.2"/>
<circle cx="500.40" cy="421.88" r="3.7" fill="#fff" stroke="#111" stroke-width="1.2"/>
<circle cx="515.40" cy="416.45" r="3.7" fill="#fff" stroke="#111" stroke-width="1.2"/>
<circle cx="530.40" cy="409.50" r="3.7" fill="#fff" stroke="#111" stroke-width="1.2"/>
<polygon points="485.60,436.50 486.26,438.09 487.98,438.23 486.67,439.35 487.07,441.02 485.60,440.12 484.13,441.02 484.53,439.35 483.22,438.23 484.94,438.09" fill="#222"/>
<polygon points="500.60,431.90 501.26,433.49 502.98,433.63 501.67,434.75 502.07,436.42 500.60,435.52 499.13,436.42 499.53,434.75 498.22,433.63 499.94,433.49" fill="#222"/>
<polygon points="515.60,426.60 516.26,428.19 517.98,428.33 516.67,429.45 517.07,431.12 515.60,430.23 514.13,431.12 514.53,429.45 513.22,428.33 514.94,428.19" fill="#222"/>
<polygon points="530.60,420.60 531.26,422.19 532.98,422.33 531.67,423.45 532.07,425.12 530.60,424.23 529.13,425.12 529.53,423.45 528.22,422.33 529.94,422.19" fill="#222"/>
<line x1="348.2" y1="341.8" x2="371.8" y2="341.8" stroke="#111" stroke-width="1.3"/>
<circle cx="359.3" cy="341.8" r="4.5" fill="#111"/>
<line x1="348.2" y1="358.1" x2="371.8" y2="358.1" stroke="#111" stroke-width="1.3"/>
<circle cx="359.3" cy="358.1" r="3.9" fill="#fff" stroke="#111" stroke-width="1.2"/>
<text x="7.54" y="22.90" font-size="14.43" textLength="49.11" lengthAdjust="spacingAndGlyphs">+60 mV</text>
<text x="10.88" y="82.90" font-size="14.86" textLength="45.37" lengthAdjust="spacingAndGlyphs">-70 mV</text>
<text x="93.38" y="11.70" font-size="14.57" textLength="47.02" lengthAdjust="spacingAndGlyphs">500 ms</text>
<text x="171.89" y="51.90" font-size="14.43" textLength="32.87" lengthAdjust="spacingAndGlyphs">0 mV</text>
<text x="238.59" y="54.70" font-size="13.57" textLength="44.91" lengthAdjust="spacingAndGlyphs">200 pA</text>
<text x="240.89" y="87.00" font-size="14.00" textLength="39.01" lengthAdjust="spacingAndGlyphs">50 ms</text>
<text x="-0.31" y="128.20" font-size="20.37" textLength="8.49" lengthAdjust="spacingAndGlyphs">a</text>
<text x="126.74" y="127.40" font-size="14.79" textLength="49.60" lengthAdjust="spacingAndGlyphs">Control</text>
<text x="287.49" y="128.00" font-size="18.22" textLength="11.26" lengthAdjust="spacingAndGlyphs">b</text>
<text x="391.36" y="127.30" font-size="15.43" textLength="19.46" lengthAdjust="spacingAndGlyphs">HS</text>
<text x="47.38" y="284.50" font-size="13.56" textLength="55.97" lengthAdjust="spacingAndGlyphs">Baseline</text>
<text x="178.53" y="284.70" font-size="14.43" textLength="38.17" lengthAdjust="spacingAndGlyphs">Ang II</text>
<text x="328.58" y="284.60" font-size="13.70" textLength="56.18" lengthAdjust="spacingAndGlyphs">Baseline</text>
<text x="476.93" y="285.00" font-size="14.86" textLength="37.96" lengthAdjust="spacingAndGlyphs">Ang II</text>
<text x="-0.09" y="323.30" font-size="19.44" textLength="9.12" lengthAdjust="spacingAndGlyphs">c</text>
<text x="293.26" y="323.00" font-size="17.26" textLength="11.26" lengthAdjust="spacingAndGlyphs">d</text>
<text x="100.67" y="347.00" font-size="13.42" textLength="56.89" lengthAdjust="spacingAndGlyphs">Baseline</text>
<text x="101.23" y="363.40" font-size="13.71" textLength="37.76" lengthAdjust="spacingAndGlyphs">Ang II</text>
<text x="377.67" y="345.50" font-size="13.29" textLength="56.89" lengthAdjust="spacingAndGlyphs">Baseline</text>
<text x="378.23" y="362.00" font-size="13.86" textLength="37.76" lengthAdjust="spacingAndGlyphs">Ang II</text>
<text x="125.40" y="520.70" font-size="12.60" textLength="84.20" lengthAdjust="spacingAndGlyphs">Voltage (mV)</text>
<text x="400.80" y="521.40" font-size="13.84" textLength="84.20" lengthAdjust="spacingAndGlyphs">Voltage (mV)</text>
<text x="39.31" y="338.20" font-size="14.14" textLength="15.18" lengthAdjust="spacingAndGlyphs">40</text>
<text x="39.31" y="368.40" font-size="14.14" textLength="15.18" lengthAdjust="spacingAndGlyphs">30</text>
<text x="39.31" y="398.60" font-size="14.14" textLength="15.18" lengthAdjust="spacingAndGlyphs">20</text>
<text x="39.31" y="428.80" font-size="14.14" textLength="15.18" lengthAdjust="spacingAndGlyphs">10</text>
<text x="46.90" y="459.00" font-size="14.14" textLength="7.59" lengthAdjust="spacingAndGlyphs">0</text>
<text x="34.76" y="488.80" font-size="14.14" textLength="19.73" lengthAdjust="spacingAndGlyphs">-10</text>
<text x="314.31" y="338.20" font-size="14.14" textLength="15.18" lengthAdjust="spacingAndGlyphs">40</text>
<text x="314.31" y="368.40" font-size="14.14" textLength="15.18" lengthAdjust="spacingAndGlyphs">30</text>
<text x="314.31" y="398.60" font-size="14.14" textLength="15.18" lengthAdjust="spacingAndGlyphs">20</text>
<text x="314.31" y="428.80" font-size="14.14" textLength="15.18" lengthAdjust="spacingAndGlyphs">10</text>
<text x="321.90" y="459.00" font-size="14.14" textLength="7.59" lengthAdjust="spacingAndGlyphs">0</text>
<text x="309.76" y="488.80" font-size="14.14" textLength="19.73" lengthAdjust="spacingAndGlyphs">-10</text>
<text x="64.68" y="504.00" font-size="12.86" textLength="19.73" lengthAdjust="spacingAndGlyphs">-60</text>
<text x="94.68" y="504.00" font-size="12.86" textLength="19.73" lengthAdjust="spacingAndGlyphs">-40</text>
<text x="124.68" y="504.00" font-size="12.86" textLength="19.73" lengthAdjust="spacingAndGlyphs">-20</text>
<text x="161.75" y="504.00" font-size="12.86" textLength="7.59" lengthAdjust="spacingAndGlyphs">0</text>
<text x="187.95" y="504.00" font-size="12.86" textLength="15.18" lengthAdjust="spacingAndGlyphs">20</text>
<text x="218.09" y="504.00" font-size="12.86" textLength="15.18" lengthAdjust="spacingAndGlyphs">40</text>
<text x="247.95" y="504.00" font-size="12.86" textLength="15.18" lengthAdjust="spacingAndGlyphs">60</text>
<text x="339.58" y="502.90" font-size="13.29" textLength="19.73" lengthAdjust="spacingAndGlyphs">-60</text>
<text x="369.58" y="502.90" font-size="13.29" textLength="19.73" lengthAdjust="spacingAndGlyphs">-40</text>
<text x="399.58" y="502.90" font-size="13.29" textLength="19.73" lengthAdjust="spacingAndGlyphs">-20</text>
<text x="436.65" y="502.90" font-size="13.29" textLength="7.59" lengthAdjust="spacingAndGlyphs">0</text>
<text x="462.85" y="502.90" font-size="13.29" textLength="15.18" lengthAdjust="spacingAndGlyphs">20</text>
<text x="492.99" y="502.90" font-size="13.29" textLength="15.18" lengthAdjust="spacingAndGlyphs">40</text>
<text x="522.85" y="502.90" font-size="13.29" textLength="15.18" lengthAdjust="spacingAndGlyphs">60</text>
<text transform="translate(27.00,487.00) rotate(-90)" x="-0.55" y="0" font-size="14.38" textLength="155.54" lengthAdjust="spacingAndGlyphs">Current Density (pA/pF)</text>
<text transform="translate(303.40,486.90) rotate(-90)" x="-0.55" y="0" font-size="14.38" textLength="155.65" lengthAdjust="spacingAndGlyphs">Current Density (pA/pF)</text>
</svg>
</body></html>
